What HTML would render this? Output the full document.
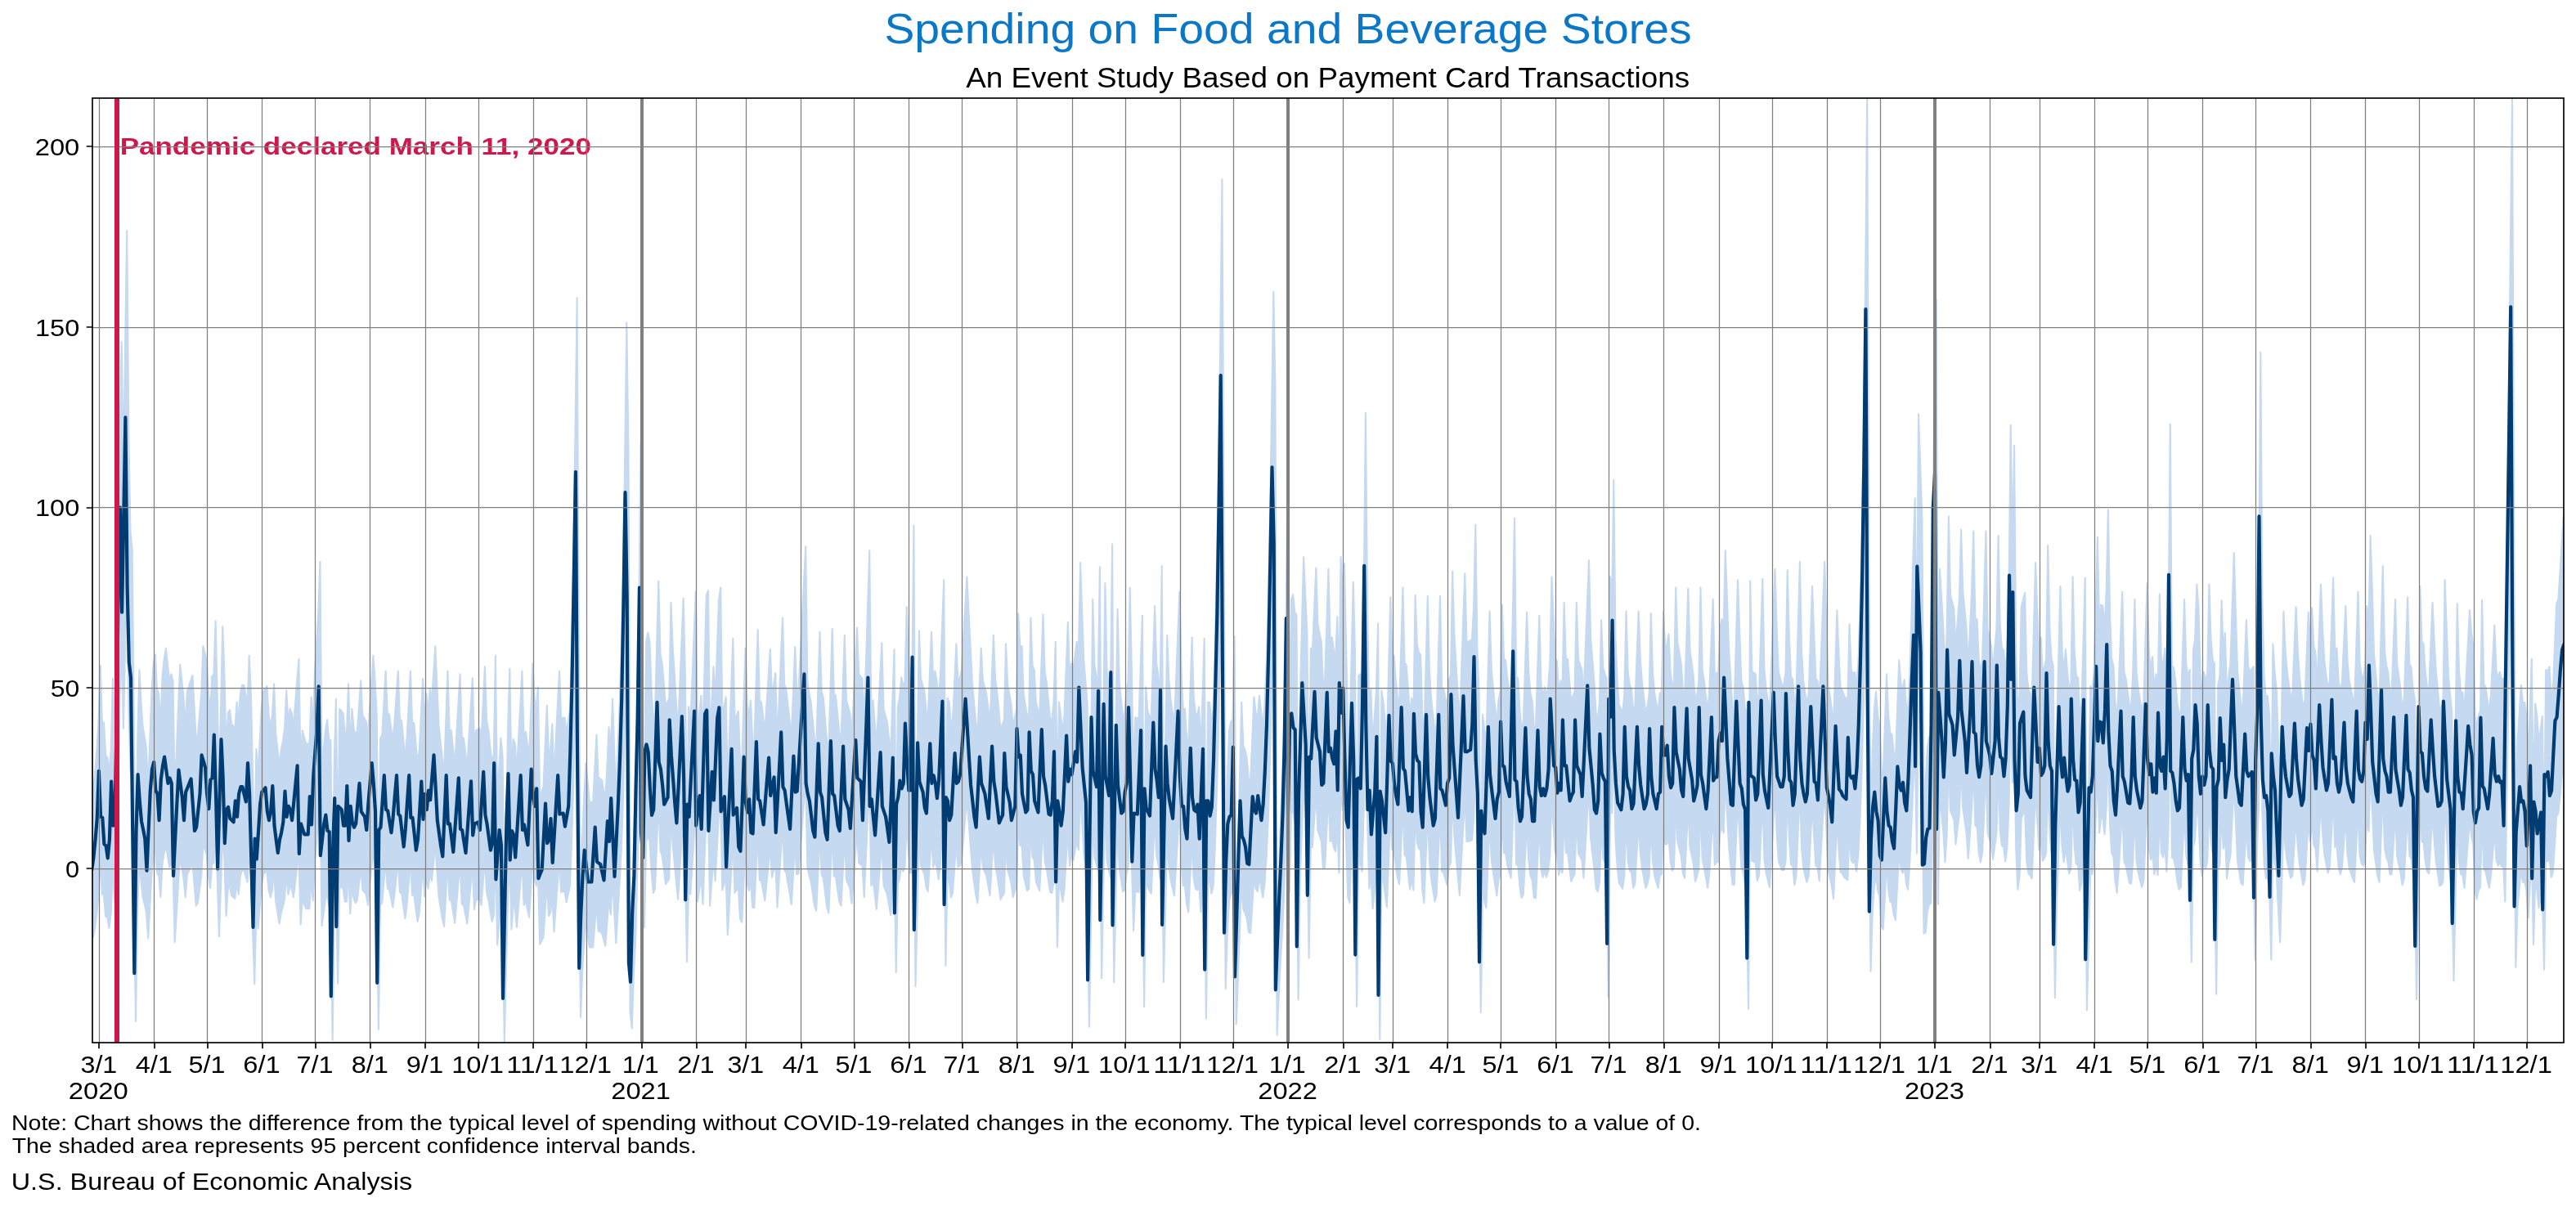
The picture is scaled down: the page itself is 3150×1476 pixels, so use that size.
<!DOCTYPE html>
<html><head><meta charset="utf-8"><title>Spending on Food and Beverage Stores</title>
<style>html,body{margin:0;padding:0;background:#fff}body{width:3150px;height:1476px;overflow:hidden;font-family:"Liberation Sans",sans-serif}svg{display:block}</style>
</head><body>
<svg style="will-change:transform" width="3150" height="1476" viewBox="0 0 3150 1476" font-family="'Liberation Sans', sans-serif">
<rect width="3150" height="1476" fill="#fff"/>
<defs><clipPath id="ax"><rect x="113.0" y="120.0" width="3022.0" height="1155.0"/></clipPath></defs>
<g clip-path="url(#ax)">
<polygon fill="#c5d9f0" stroke="#c5d9f0" stroke-width="2.08" stroke-linejoin="round" points="112.3,962.2 114.0,962.2 116.2,944.3 118.4,917.2 120.5,884.6 122.7,813.8 124.9,882.7 127.0,884.1 129.2,923.8 131.4,926.5 133.5,945.0 135.7,917.2 137.9,829.7 140.0,896.0 142.2,884.6 144.4,743.4 146.5,526.3 148.7,417.7 150.9,575.2 153.0,428.6 155.2,282.0 157.4,537.2 159.5,651.2 161.7,672.9 163.9,895.4 166.0,1118.0 168.2,906.3 170.4,819.1 172.5,859.1 174.7,889.5 176.9,902.0 179.0,916.1 181.2,963.8 183.4,903.4 185.5,843.0 187.7,811.2 189.9,800.6 192.0,843.0 194.2,848.3 196.4,888.0 198.5,827.1 200.7,805.9 202.9,792.6 205.0,812.5 207.2,832.4 209.4,824.4 211.5,832.4 213.7,971.5 215.9,917.8 218.0,864.2 220.2,812.5 222.4,833.1 224.5,853.6 226.7,888.0 228.9,845.6 231.1,839.0 233.2,832.4 235.4,825.8 237.6,864.2 239.7,903.9 241.9,898.6 244.1,873.5 246.2,848.3 248.4,790.0 250.6,799.3 252.7,808.5 254.9,848.3 257.1,870.8 259.2,827.1 261.4,824.4 263.6,759.5 265.7,848.3 267.9,960.9 270.1,863.5 272.2,766.1 274.4,821.8 276.6,922.5 278.7,872.1 280.9,868.2 283.1,885.4 285.2,888.0 287.4,890.7 289.6,858.9 291.7,882.7 293.9,848.3 296.1,837.7 298.2,837.7 300.4,848.9 302.6,860.2 304.7,801.9 306.9,848.3 309.1,948.7 311.2,1049.1 313.4,915.9 315.6,946.3 317.7,905.3 319.9,864.2 322.1,845.6 324.2,842.3 326.4,839.0 328.6,874.8 330.7,888.0 332.9,874.8 335.1,836.4 337.2,896.0 339.4,916.5 341.6,937.1 343.7,917.2 345.9,906.6 348.1,890.7 350.2,844.3 352.4,882.7 354.6,866.8 356.7,872.1 358.9,888.0 361.1,860.2 363.2,832.4 365.4,805.9 367.6,938.4 369.7,893.3 371.9,901.3 374.1,909.2 376.2,909.2 378.4,909.2 380.6,852.3 382.7,894.7 384.9,821.8 387.1,786.0 389.2,750.2 391.4,686.7 393.6,941.0 395.7,917.2 397.9,893.3 400.1,880.1 402.2,903.9 404.4,905.3 406.6,1152.8 408.7,933.4 410.9,854.9 413.1,1048.0 415.2,866.8 417.4,869.5 419.6,872.1 421.7,896.0 423.9,896.0 426.1,836.4 428.2,918.5 430.4,866.8 432.6,890.7 434.7,898.6 436.9,893.3 439.1,862.9 441.2,832.4 443.4,874.8 445.6,878.8 447.8,882.7 449.9,902.6 452.1,864.2 454.3,833.1 456.4,801.9 458.6,832.4 460.8,874.8 462.9,1132.7 465.1,902.6 467.3,898.6 469.4,859.5 471.6,820.5 473.8,872.1 475.9,873.5 478.1,890.0 480.3,906.6 482.4,882.7 484.6,851.6 486.8,820.5 488.9,878.8 491.1,881.4 493.3,904.6 495.4,927.8 497.6,901.3 499.8,860.9 501.9,820.5 504.1,884.1 506.3,884.1 508.4,908.6 510.6,933.1 512.8,917.2 514.9,873.5 517.1,829.7 519.3,886.7 521.4,848.3 523.6,872.1 525.8,843.0 527.9,857.6 530.1,823.8 532.3,790.0 534.4,839.0 536.6,888.0 538.8,907.9 540.9,927.8 543.1,942.4 545.3,881.4 547.4,820.5 549.6,893.3 551.8,893.3 553.9,914.5 556.1,935.7 558.3,898.6 560.4,861.5 562.6,824.4 564.8,901.3 566.9,902.6 569.1,919.8 571.3,937.1 573.4,901.1 575.6,865.2 577.8,829.2 579.9,910.6 582.1,893.3 584.3,892.0 586.4,890.7 588.6,902.6 590.8,858.9 592.9,815.2 595.1,880.1 597.3,893.3 599.4,913.2 601.6,933.1 603.8,922.5 605.9,801.9 608.1,976.8 610.3,939.7 612.4,902.6 614.6,925.1 616.8,1156.0 618.9,1022.0 621.1,888.0 623.3,817.8 625.4,947.7 627.6,903.9 629.8,909.2 631.9,943.7 634.1,902.6 636.3,861.5 638.4,820.5 640.6,902.6 642.8,894.7 644.9,909.9 647.1,925.1 649.3,868.2 651.4,811.2 653.6,853.6 655.8,866.8 657.9,840.3 660.1,975.5 662.3,968.8 664.5,962.2 666.6,912.5 668.8,862.9 671.0,922.5 673.1,917.2 675.3,885.4 677.5,951.6 679.6,907.9 681.8,864.2 684.0,820.5 686.1,878.8 688.3,878.1 690.5,877.4 692.6,897.3 694.8,882.1 697.0,866.8 699.1,781.4 701.3,678.3 703.5,526.3 705.6,364.0 707.8,786.9 710.0,1110.4 712.1,1025.7 714.3,971.4 716.5,933.1 718.6,956.9 720.8,980.8 723.0,980.8 725.1,980.8 727.3,939.7 729.5,898.6 731.6,950.3 733.8,952.3 736.0,954.3 738.1,966.2 740.3,978.1 742.5,933.7 744.6,889.4 746.8,919.8 749.0,854.9 751.1,913.9 753.3,972.8 755.5,917.2 757.6,862.9 759.8,797.7 762.0,705.4 764.1,564.3 766.3,394.9 768.5,553.4 770.6,1101.7 772.8,1131.0 775.0,1025.7 777.1,971.4 779.3,841.2 781.5,732.6 783.6,538.2 785.8,906.3 788.0,944.3 790.1,785.2 792.3,773.8 794.5,785.2 796.6,841.2 798.8,880.2 801.0,872.1 803.1,791.3 805.3,710.5 807.5,800.6 809.6,811.2 811.8,835.0 814.0,864.2 816.1,858.9 818.3,853.6 820.5,737.0 822.6,790.0 824.8,825.8 827.0,861.5 829.1,892.0 831.3,838.6 833.5,785.1 835.6,731.7 837.8,821.8 840.0,1007.8 842.1,864.2 844.3,882.7 846.5,829.7 848.6,776.7 850.8,723.8 853.0,896.0 855.1,873.5 857.3,850.9 859.5,901.3 861.6,814.5 863.8,727.7 866.0,722.4 868.1,903.9 870.3,859.5 872.5,815.2 874.6,857.6 876.8,796.0 879.0,734.3 881.2,718.5 883.3,874.8 885.5,863.5 887.7,852.3 889.8,958.3 892.0,899.1 894.2,839.9 896.3,780.7 898.5,880.1 900.7,874.8 902.8,869.5 905.0,927.8 907.2,934.4 909.3,863.5 911.5,792.6 913.7,861.5 915.8,876.1 918.0,856.2 920.2,906.6 922.3,907.9 924.5,839.0 926.7,770.1 928.8,856.2 931.0,858.9 933.2,876.8 935.3,894.7 937.5,861.1 939.7,827.5 941.8,794.0 944.0,850.9 946.2,837.0 948.3,823.1 950.5,906.6 952.7,856.2 954.8,805.9 957.0,755.5 959.2,837.7 961.3,843.0 963.5,862.4 965.7,881.9 967.8,901.3 970.0,846.3 972.2,791.3 974.3,845.6 976.5,844.3 978.7,800.3 980.8,756.2 983.0,712.2 985.2,668.1 987.3,832.4 989.5,848.3 991.7,858.9 993.8,881.4 996.0,903.9 998.2,913.2 1000.3,843.0 1002.5,772.8 1004.7,845.6 1006.8,853.6 1009.0,880.1 1011.2,906.6 1013.3,917.2 1015.5,843.0 1017.7,768.8 1019.8,848.3 1022.0,850.9 1024.2,873.5 1026.3,896.0 1028.5,903.9 1030.7,840.3 1032.8,776.7 1035.0,856.2 1037.2,864.2 1039.3,872.1 1041.5,900.0 1043.7,855.8 1045.8,811.6 1048.0,767.5 1050.2,824.4 1052.3,827.1 1054.5,829.7 1056.7,888.0 1058.8,816.5 1061.0,744.9 1063.2,673.4 1065.3,866.8 1067.5,856.2 1069.7,883.4 1071.8,910.6 1074.0,869.0 1076.2,827.5 1078.3,786.0 1080.5,866.8 1082.7,874.8 1084.8,882.7 1087.0,901.9 1089.2,921.2 1091.3,857.6 1093.5,794.0 1095.7,1027.4 1097.9,864.2 1100.0,853.6 1102.2,828.4 1104.4,840.3 1106.5,832.4 1108.7,742.3 1110.9,800.6 1113.0,843.0 1115.2,843.0 1117.4,642.5 1119.5,1052.9 1121.7,912.2 1123.9,771.4 1126.0,829.7 1128.2,837.7 1130.4,845.6 1132.5,869.5 1134.7,877.4 1136.9,825.1 1139.0,772.8 1141.2,832.4 1143.4,820.5 1145.5,832.4 1147.7,854.9 1149.9,827.1 1152.0,768.1 1154.2,709.2 1156.4,1014.9 1158.5,853.6 1160.7,858.9 1162.9,888.0 1165.0,880.1 1167.2,833.7 1169.4,787.3 1171.5,832.4 1173.7,829.7 1175.9,819.1 1178.0,781.2 1180.2,743.2 1182.4,705.2 1184.5,748.5 1186.7,791.8 1188.9,835.0 1191.0,858.9 1193.2,882.7 1195.4,898.6 1197.5,845.6 1199.7,792.6 1201.9,832.4 1204.0,840.3 1206.2,848.3 1208.4,866.8 1210.5,885.4 1212.7,831.1 1214.9,776.7 1217.0,829.7 1219.2,845.6 1221.4,868.8 1223.5,892.0 1225.7,886.0 1227.9,880.1 1230.0,787.3 1232.2,837.7 1234.4,849.6 1236.5,861.5 1238.7,888.0 1240.9,877.4 1243.0,866.8 1245.2,750.2 1247.4,792.6 1249.5,790.0 1251.7,848.3 1253.9,862.2 1256.0,876.1 1258.2,872.1 1260.4,755.5 1262.5,813.8 1264.7,819.1 1266.9,858.9 1269.0,867.5 1271.2,876.1 1273.4,813.8 1275.5,751.6 1277.7,821.8 1279.9,835.0 1282.0,856.9 1284.2,878.8 1286.4,880.1 1288.5,858.9 1290.7,784.7 1292.9,980.7 1295.0,858.9 1297.2,874.8 1299.4,896.0 1301.5,874.8 1303.7,817.8 1305.9,760.8 1308.0,829.7 1310.2,811.2 1312.4,819.1 1314.6,801.9 1316.7,784.7 1318.9,800.6 1321.1,688.0 1323.2,748.3 1325.4,808.5 1327.6,835.0 1329.7,861.5 1331.9,1128.3 1334.1,930.7 1336.2,733.0 1338.4,813.8 1340.6,825.8 1342.7,837.7 1344.9,693.3 1347.1,1038.2 1349.2,875.7 1351.4,713.2 1353.6,821.8 1355.7,836.4 1357.9,850.9 1360.1,665.5 1362.2,1045.8 1364.4,895.4 1366.6,744.9 1368.7,835.0 1370.9,856.2 1373.1,877.4 1375.2,874.8 1377.4,845.6 1379.6,832.4 1381.7,718.5 1383.9,821.8 1386.1,950.3 1388.2,877.4 1390.4,878.1 1392.6,878.8 1394.7,815.8 1396.9,752.9 1399.1,1090.9 1401.2,840.3 1403.4,869.5 1405.6,875.4 1407.7,881.4 1409.9,811.2 1412.1,741.0 1414.2,811.2 1416.4,827.1 1418.6,853.6 1420.7,692.0 1422.9,1045.3 1425.1,911.0 1427.2,776.7 1429.4,832.4 1431.6,856.2 1433.7,870.8 1435.9,885.4 1438.1,831.5 1440.2,777.6 1442.4,723.8 1444.6,821.8 1446.7,866.8 1448.9,866.8 1451.1,901.3 1453.2,915.9 1455.4,847.6 1457.6,779.4 1459.7,853.6 1461.9,872.1 1464.1,874.8 1466.2,864.2 1468.4,915.9 1470.6,848.3 1472.7,780.7 1474.9,1112.6 1477.1,858.9 1479.2,858.9 1481.4,881.4 1483.6,868.3 1485.7,797.7 1487.9,689.2 1490.1,580.6 1492.2,417.7 1494.4,219.0 1496.6,634.9 1498.7,1057.2 1500.9,949.7 1503.1,893.3 1505.2,882.7 1507.4,880.1 1509.6,778.1 1511.7,1123.4 1513.9,1035.3 1516.1,947.1 1518.2,858.9 1520.4,911.9 1522.6,917.2 1524.7,927.8 1526.9,953.0 1529.1,954.3 1531.3,903.3 1533.4,852.3 1535.6,872.1 1537.8,877.4 1539.9,850.9 1542.1,869.5 1544.3,888.0 1546.4,862.9 1548.6,814.0 1550.8,743.4 1552.9,634.9 1555.1,499.2 1557.3,356.9 1559.4,472.0 1561.6,1143.0 1563.8,1069.2 1565.9,1004.0 1568.1,949.7 1570.3,879.2 1572.4,770.6 1574.6,584.4 1576.8,879.2 1578.9,732.6 1581.1,727.2 1583.3,748.9 1585.4,751.6 1587.6,1077.8 1589.8,852.0 1591.9,766.7 1594.1,681.4 1596.3,729.0 1598.4,774.1 1600.6,1000.8 1602.8,792.6 1604.9,795.3 1607.1,744.9 1609.3,694.6 1611.4,763.5 1613.6,774.1 1615.8,784.7 1617.9,835.0 1620.1,832.4 1622.3,764.2 1624.4,695.9 1626.6,784.7 1628.8,779.4 1630.9,795.3 1633.1,803.2 1635.3,754.2 1637.4,843.0 1639.6,681.4 1641.8,726.4 1643.9,689.3 1646.1,788.7 1648.3,888.0 1650.4,898.6 1652.6,805.2 1654.8,711.8 1656.9,795.3 1659.1,1090.3 1661.3,825.8 1663.4,824.4 1665.6,840.3 1667.8,716.3 1669.9,505.1 1672.1,743.4 1674.3,872.1 1676.4,843.0 1678.6,909.2 1680.8,877.4 1682.9,845.6 1685.1,762.2 1687.3,1151.1 1689.4,844.3 1691.6,858.9 1693.8,882.7 1695.9,906.6 1698.1,818.5 1700.3,730.4 1702.4,799.3 1704.6,801.9 1706.8,832.4 1708.9,850.9 1711.1,864.2 1713.3,791.3 1715.4,718.5 1717.6,809.9 1719.8,813.8 1721.9,843.0 1724.1,873.5 1726.3,853.6 1728.4,874.8 1730.6,727.7 1732.8,787.3 1734.9,797.9 1737.1,800.6 1739.3,874.8 1741.4,898.6 1743.6,813.8 1745.8,729.0 1748.0,821.8 1750.1,853.6 1752.3,874.8 1754.5,896.0 1756.6,885.4 1758.8,807.2 1761.0,729.0 1763.1,840.3 1765.3,843.0 1767.5,854.2 1769.6,865.5 1771.8,832.4 1774.0,824.4 1776.1,698.6 1778.3,774.1 1780.5,811.2 1782.6,847.6 1784.8,884.1 1787.0,823.1 1789.1,762.2 1791.3,701.2 1793.5,784.7 1795.6,784.7 1797.8,783.4 1800.0,782.0 1802.1,742.3 1804.3,641.9 1806.5,797.7 1808.6,848.2 1810.8,1101.2 1813.0,873.7 1815.1,893.3 1817.3,907.9 1819.5,827.8 1821.6,747.6 1823.8,819.1 1826.0,843.0 1828.1,864.2 1830.3,885.4 1832.5,856.2 1834.6,845.6 1836.8,739.6 1839.0,805.9 1841.1,807.2 1843.3,829.7 1845.5,841.0 1847.6,852.3 1849.8,754.3 1852.0,633.8 1854.1,827.1 1856.3,829.7 1858.5,869.5 1860.6,889.4 1862.8,882.7 1865.0,815.8 1867.1,748.9 1869.3,821.8 1871.5,848.3 1873.6,856.2 1875.8,889.4 1878.0,889.4 1880.1,821.1 1882.3,752.9 1884.5,837.7 1886.6,850.9 1888.8,840.3 1891.0,850.9 1893.1,840.3 1895.3,811.2 1897.5,705.2 1899.6,755.5 1901.8,805.9 1904.0,808.5 1906.1,847.0 1908.3,832.4 1910.5,843.0 1912.6,737.0 1914.8,805.9 1917.0,805.9 1919.1,832.4 1921.3,858.9 1923.5,850.9 1925.6,845.6 1927.8,737.0 1930.0,805.9 1932.1,812.5 1934.3,819.1 1936.5,852.3 1938.6,796.6 1940.8,741.0 1943.0,685.3 1945.1,779.4 1947.3,807.2 1949.5,835.0 1951.6,872.1 1953.8,877.4 1956.0,858.9 1958.1,758.2 1960.3,816.5 1962.5,824.4 1964.7,829.7 1966.8,1073.5 1969.0,705.4 1971.2,732.6 1973.3,587.1 1975.5,782.0 1977.7,832.4 1979.8,861.5 1982.0,866.8 1984.2,872.1 1986.3,848.3 1988.5,747.6 1990.7,821.8 1992.8,837.7 1995.0,843.0 1997.2,870.8 1999.3,862.9 2001.5,805.2 2003.7,747.6 2005.8,805.9 2008.0,835.0 2010.2,852.9 2012.3,870.8 2014.5,864.2 2016.7,848.3 2018.8,750.2 2021.0,821.8 2023.2,848.3 2025.3,859.5 2027.5,870.8 2029.7,848.3 2031.8,845.6 2034.0,747.6 2036.2,790.0 2038.3,790.0 2040.5,775.4 2042.7,821.8 2044.8,839.0 2047.0,832.4 2049.2,718.5 2051.3,784.7 2053.5,797.9 2055.7,811.2 2057.8,843.0 2060.0,852.3 2062.2,786.0 2064.3,719.8 2066.5,795.3 2068.7,811.2 2070.8,827.1 2073.0,858.9 2075.2,848.3 2077.3,835.0 2079.5,718.5 2081.7,819.1 2083.8,832.4 2086.0,851.6 2088.2,870.8 2090.3,843.0 2092.5,788.0 2094.7,733.0 2096.8,828.4 2099.0,823.1 2101.2,823.1 2103.3,768.8 2105.5,756.9 2107.7,768.8 2109.8,673.4 2112.0,734.3 2114.2,795.3 2116.3,829.7 2118.5,864.2 2120.7,865.5 2122.8,787.3 2125.0,709.2 2127.2,770.8 2129.3,832.4 2131.5,840.3 2133.7,864.2 2135.8,872.1 2138.0,1095.2 2140.2,710.5 2142.3,820.5 2144.5,822.5 2146.7,824.4 2148.8,857.6 2151.0,848.3 2153.2,778.1 2155.3,707.9 2157.5,819.1 2159.7,843.0 2161.8,856.2 2164.0,869.5 2166.2,811.6 2168.3,753.8 2170.5,695.9 2172.7,768.8 2174.8,821.8 2177.0,829.7 2179.2,837.7 2181.4,837.7 2183.5,821.8 2185.7,697.3 2187.9,779.4 2190.0,827.1 2192.2,831.1 2194.4,865.5 2196.5,848.3 2198.7,767.5 2200.9,686.7 2203.0,795.3 2205.2,832.4 2207.4,848.3 2209.5,860.2 2211.7,848.3 2213.9,782.7 2216.0,717.1 2218.2,773.4 2220.4,829.7 2222.5,832.4 2224.7,857.6 2226.9,800.6 2229.0,743.6 2231.2,686.7 2233.4,762.8 2235.5,839.0 2237.7,850.9 2239.9,866.8 2242.0,890.7 2244.2,818.5 2246.4,746.3 2248.5,800.6 2250.7,841.7 2252.9,844.3 2255.0,850.9 2257.2,853.6 2259.4,856.2 2261.5,763.5 2263.7,819.1 2265.9,824.4 2268.0,821.8 2270.2,840.3 2272.4,808.6 2274.5,743.4 2276.7,651.2 2278.9,526.3 2281.0,352.6 2283.2,119.2 2285.4,689.2 2287.5,1025.2 2289.7,917.2 2291.9,868.3 2294.0,845.6 2296.2,874.8 2298.4,888.0 2300.5,941.0 2302.7,947.7 2304.9,886.0 2307.0,824.4 2309.2,874.8 2311.4,896.0 2313.5,898.6 2315.7,919.8 2317.9,930.4 2320.0,868.8 2322.2,807.2 2324.4,835.0 2326.5,843.0 2328.7,831.1 2330.9,861.5 2333.0,873.5 2335.2,824.9 2337.4,754.3 2339.5,678.3 2341.7,609.4 2343.9,807.0 2346.0,506.2 2348.2,569.7 2350.4,634.9 2352.5,955.2 2354.7,953.5 2356.9,914.5 2359.0,901.3 2361.2,900.0 2363.4,743.4 2365.5,417.7 2367.7,366.2 2369.9,901.4 2372.0,695.9 2374.2,732.4 2376.4,768.8 2378.5,823.1 2380.7,770.6 2382.9,631.6 2385.0,727.7 2387.2,736.3 2389.4,744.9 2391.5,790.0 2393.7,761.3 2395.9,732.6 2398.1,647.9 2400.2,721.7 2402.4,745.3 2404.6,768.8 2406.7,816.5 2408.9,770.6 2411.1,721.7 2413.2,649.5 2415.4,755.5 2417.6,758.2 2419.7,805.9 2421.9,823.1 2424.1,805.9 2426.2,732.6 2428.4,649.5 2430.6,768.8 2432.7,779.4 2434.9,790.0 2437.1,817.8 2439.2,793.3 2441.4,768.8 2443.6,655.0 2445.7,763.5 2447.9,792.6 2450.1,795.3 2452.2,821.8 2454.4,795.3 2456.6,716.3 2458.7,519.8 2460.9,676.1 2463.1,544.8 2465.2,797.7 2467.4,873.5 2469.6,848.3 2471.7,742.3 2473.9,733.7 2476.1,725.1 2478.2,821.8 2480.4,843.0 2482.6,848.3 2484.7,853.6 2486.9,770.8 2489.1,688.0 2491.2,744.3 2493.4,800.6 2495.6,779.4 2497.7,820.5 2499.9,816.5 2502.1,805.9 2504.2,666.8 2506.4,768.8 2508.6,805.9 2510.7,813.8 2512.9,1074.6 2515.1,895.4 2517.2,806.3 2519.4,717.1 2521.6,795.3 2523.7,823.1 2525.9,794.0 2528.1,821.8 2530.2,844.3 2532.4,835.0 2534.6,705.2 2536.7,795.3 2538.9,827.1 2541.1,828.4 2543.2,876.1 2545.4,861.5 2547.6,784.0 2549.7,706.5 2551.9,1097.4 2554.1,968.2 2556.2,839.0 2558.4,845.6 2560.6,821.8 2562.7,743.4 2564.9,656.6 2567.1,768.8 2569.2,739.6 2571.4,741.0 2573.6,771.4 2575.7,721.7 2577.9,623.5 2580.1,754.3 2582.2,805.9 2584.4,813.8 2586.6,858.9 2588.7,880.1 2590.9,835.0 2593.1,779.4 2595.2,723.8 2597.4,821.8 2599.6,829.7 2601.7,845.6 2603.9,861.5 2606.1,862.9 2608.2,821.8 2610.4,733.0 2612.6,821.8 2614.8,843.0 2616.9,856.2 2619.1,869.5 2621.3,858.9 2623.4,786.0 2625.6,713.2 2627.8,795.3 2629.9,819.1 2632.1,803.2 2634.3,845.6 2636.4,824.4 2638.6,847.0 2640.8,726.4 2642.9,805.9 2645.1,813.8 2647.3,792.6 2649.4,840.3 2651.6,765.2 2653.8,518.7 2655.9,813.8 2658.1,816.5 2660.3,832.4 2662.4,858.9 2664.6,873.5 2666.8,869.5 2668.9,801.3 2671.1,733.0 2673.3,811.2 2675.4,828.4 2677.6,819.1 2679.8,1008.4 2681.9,795.3 2684.1,782.0 2686.3,714.5 2688.4,742.3 2690.6,821.8 2692.8,848.3 2694.9,821.8 2697.1,835.0 2699.3,821.8 2701.4,714.5 2703.6,782.0 2705.8,807.2 2707.9,811.2 2710.1,1067.5 2712.3,837.7 2714.4,827.1 2716.6,734.3 2718.8,797.9 2720.9,774.1 2723.1,853.6 2725.3,827.1 2727.4,811.2 2729.6,743.6 2731.8,676.1 2733.9,748.9 2736.1,821.8 2738.3,841.7 2740.4,861.5 2742.6,865.5 2744.8,811.9 2746.9,758.2 2749.1,813.8 2751.3,821.8 2753.4,818.5 2755.6,815.2 2757.8,1004.6 2759.9,797.7 2762.1,716.3 2764.3,430.8 2766.4,732.6 2768.6,827.1 2770.8,853.6 2772.9,850.9 2775.1,873.7 2777.3,1003.5 2779.4,787.4 2781.6,821.8 2783.8,843.0 2785.9,907.2 2788.1,971.5 2790.3,859.5 2792.4,747.6 2794.6,795.3 2796.8,821.8 2798.9,837.0 2801.1,852.3 2803.3,848.3 2805.4,795.3 2807.6,742.3 2809.8,795.3 2811.9,827.1 2814.1,846.3 2816.3,865.5 2818.4,856.2 2820.6,802.6 2822.8,748.9 2824.9,783.4 2827.1,743.6 2829.3,790.0 2831.5,797.9 2833.6,840.3 2835.8,777.4 2838.0,714.5 2840.1,768.8 2842.3,808.5 2844.5,825.8 2846.6,843.0 2848.8,832.4 2851.0,769.5 2853.1,706.5 2855.3,795.3 2857.5,792.6 2859.6,832.4 2861.8,845.6 2864.0,832.4 2866.1,786.7 2868.3,741.0 2870.5,808.5 2872.6,832.4 2874.8,843.0 2877.0,853.6 2879.1,860.2 2881.3,792.0 2883.5,723.8 2885.6,811.2 2887.8,825.8 2890.0,829.7 2892.1,813.8 2894.3,741.0 2896.5,766.1 2898.6,655.0 2900.8,721.1 2903.0,800.6 2905.1,824.4 2907.3,848.3 2909.5,860.2 2911.6,776.1 2913.8,692.0 2916.0,795.3 2918.1,813.8 2920.3,821.8 2922.5,845.6 2924.6,845.6 2926.8,789.3 2929.0,733.0 2931.1,811.2 2933.3,827.1 2935.5,843.0 2937.6,865.5 2939.8,853.6 2942.0,792.0 2944.1,730.4 2946.3,811.2 2948.5,816.5 2950.6,843.0 2952.8,853.6 2955.0,1077.3 2957.1,897.2 2959.3,717.1 2961.5,784.7 2963.6,787.3 2965.8,821.8 2968.0,840.3 2970.1,844.3 2972.3,790.7 2974.5,737.0 2976.6,782.0 2978.8,821.8 2981.0,844.3 2983.1,866.8 2985.3,865.5 2987.5,858.9 2989.6,709.2 2991.8,768.8 2994.0,827.1 2996.1,849.6 2998.3,872.1 3000.5,1043.1 3002.6,890.7 3004.8,738.3 3007.0,821.8 3009.1,845.6 3011.3,847.0 3013.5,870.8 3015.6,829.3 3017.8,787.8 3020.0,746.3 3022.1,774.1 3024.3,790.0 3026.5,874.8 3028.6,892.0 3030.8,874.8 3033.0,869.5 3035.1,733.8 3037.3,836.4 3039.5,840.3 3041.6,855.6 3043.8,870.8 3046.0,848.3 3048.2,806.6 3050.3,764.8 3052.5,819.1 3054.7,829.7 3056.8,821.8 3059.0,831.1 3061.2,829.7 3063.3,896.0 3065.5,689.2 3067.7,499.2 3069.8,309.2 3072.0,115.9 3074.2,662.0 3076.3,1017.6 3078.5,906.3 3080.7,872.0 3082.8,837.7 3085.0,860.2 3087.2,858.9 3089.3,874.8 3091.5,926.5 3093.7,866.2 3095.8,805.9 3098.0,975.5 3100.2,860.2 3102.3,874.8 3104.5,907.9 3106.7,892.0 3108.8,876.1 3111.0,1022.5 3113.2,819.1 3115.3,821.8 3117.5,815.2 3119.7,850.9 3121.8,843.0 3124.0,790.7 3126.2,738.3 3128.3,733.0 3130.5,700.0 3132.7,662.0 3134.8,631.6 3137.0,624.0 3137.0,922.9 3134.8,927.9 3132.7,948.0 3130.5,973.1 3128.3,994.8 3126.2,998.3 3124.0,1032.9 3121.8,1067.4 3119.7,1072.7 3117.5,1049.1 3115.3,1053.4 3113.2,1051.7 3111.0,1185.9 3108.8,1089.3 3106.7,1099.8 3104.5,1110.3 3102.3,1088.4 3100.2,1078.8 3098.0,1154.9 3095.8,1042.9 3093.7,1082.7 3091.5,1122.5 3089.3,1088.4 3087.2,1077.9 3085.0,1078.8 3082.8,1063.9 3080.7,1086.6 3078.5,1109.2 3076.3,1182.7 3074.2,948.0 3072.0,587.4 3069.8,715.0 3067.7,840.5 3065.5,965.9 3063.3,1102.4 3061.2,1058.7 3059.0,1059.6 3056.8,1053.4 3054.7,1058.7 3052.5,1051.7 3050.3,1015.8 3048.2,1043.4 3046.0,1070.9 3043.8,1085.8 3041.6,1075.7 3039.5,1065.7 3037.3,1063.1 3035.1,995.4 3033.0,1084.9 3030.8,1088.4 3028.6,1099.8 3026.5,1088.4 3024.3,1032.5 3022.1,1022.0 3020.0,1003.6 3017.8,1031.0 3015.6,1058.4 3013.5,1085.8 3011.3,1070.1 3009.1,1069.2 3007.0,1053.4 3004.8,998.3 3002.6,1098.9 3000.5,1199.5 2998.3,1086.7 2996.1,1071.8 2994.0,1056.9 2991.8,1018.5 2989.6,979.1 2987.5,1077.9 2985.3,1082.3 2983.1,1083.2 2981.0,1068.3 2978.8,1053.4 2976.6,1027.2 2974.5,997.5 2972.3,1032.9 2970.1,1068.3 2968.0,1065.7 2965.8,1053.4 2963.6,1030.7 2961.5,1029.0 2959.3,984.3 2957.1,1103.2 2955.0,1222.1 2952.8,1074.4 2950.6,1067.4 2948.5,1049.9 2946.3,1046.4 2944.1,993.1 2942.0,1033.8 2939.8,1074.4 2937.6,1082.3 2935.5,1067.4 2933.3,1056.9 2931.1,1046.4 2929.0,994.8 2926.8,1032.0 2924.6,1069.2 2922.5,1069.2 2920.3,1053.4 2918.1,1048.2 2916.0,1036.0 2913.8,967.7 2911.6,1023.3 2909.5,1078.8 2907.3,1070.9 2905.1,1055.2 2903.0,1039.4 2900.8,987.0 2898.6,943.3 2896.5,1016.7 2894.3,1000.1 2892.1,1048.2 2890.0,1058.7 2887.8,1056.1 2885.6,1046.4 2883.5,988.7 2881.3,1033.8 2879.1,1078.8 2877.0,1074.4 2874.8,1067.4 2872.6,1060.4 2870.5,1044.7 2868.3,1000.1 2866.1,1030.3 2864.0,1060.4 2861.8,1069.2 2859.6,1060.4 2857.5,1034.2 2855.3,1036.0 2853.1,977.4 2851.0,1018.9 2848.8,1060.4 2846.6,1067.4 2844.5,1056.1 2842.3,1044.7 2840.1,1018.5 2838.0,982.6 2835.8,1024.1 2833.6,1065.7 2831.5,1037.7 2829.3,1032.5 2827.1,1001.8 2824.9,1028.1 2822.8,1005.3 2820.6,1040.8 2818.4,1076.2 2816.3,1082.3 2814.1,1069.6 2811.9,1056.9 2809.8,1036.0 2807.6,1001.0 2805.4,1036.0 2803.3,1070.9 2801.1,1073.6 2798.9,1063.5 2796.8,1053.4 2794.6,1036.0 2792.4,1004.5 2790.3,1078.4 2788.1,1152.3 2785.9,1109.9 2783.8,1067.4 2781.6,1053.4 2779.4,1030.8 2777.3,1173.4 2775.1,1087.7 2772.9,1072.7 2770.8,1074.4 2768.6,1056.9 2766.4,994.6 2764.3,795.3 2762.1,983.8 2759.9,1037.6 2757.8,1174.1 2755.6,1049.1 2753.4,1051.3 2751.3,1053.4 2749.1,1048.2 2746.9,1011.5 2744.8,1046.9 2742.6,1082.3 2740.4,1079.7 2738.3,1066.6 2736.1,1053.4 2733.9,1005.3 2731.8,957.2 2729.6,1001.8 2727.4,1046.4 2725.3,1056.9 2723.1,1074.4 2720.9,1022.0 2718.8,1037.7 2716.6,995.7 2714.4,1056.9 2712.3,1063.9 2710.1,1215.7 2707.9,1046.4 2705.8,1043.8 2703.6,1027.2 2701.4,982.6 2699.3,1053.4 2697.1,1062.2 2694.9,1053.4 2692.8,1070.9 2690.6,1053.4 2688.4,1001.0 2686.3,982.6 2684.1,1027.2 2681.9,1036.0 2679.8,1176.6 2677.6,1051.7 2675.4,1057.8 2673.3,1046.4 2671.1,994.8 2668.9,1039.9 2666.8,1084.9 2664.6,1087.6 2662.4,1077.9 2660.3,1060.4 2658.1,1049.9 2655.9,1048.2 2653.8,853.4 2651.6,1016.1 2649.4,1065.7 2647.3,1034.2 2645.1,1048.2 2642.9,1042.9 2640.8,990.5 2638.6,1070.1 2636.4,1055.2 2634.3,1069.2 2632.1,1041.2 2629.9,1051.7 2627.8,1036.0 2625.6,981.7 2623.4,1029.8 2621.3,1077.9 2619.1,1084.9 2616.9,1076.2 2614.8,1067.4 2612.6,1053.4 2610.4,994.8 2608.2,1053.4 2606.1,1080.6 2603.9,1079.7 2601.7,1069.2 2599.6,1058.7 2597.4,1053.4 2595.2,988.7 2593.1,1025.5 2590.9,1062.2 2588.7,1091.9 2586.6,1077.9 2584.4,1048.2 2582.2,1042.9 2580.1,1008.9 2577.9,922.5 2575.7,987.4 2573.6,1020.2 2571.4,1000.1 2569.2,999.2 2567.1,1018.5 2564.9,944.4 2562.7,1001.7 2560.6,1053.4 2558.4,1069.2 2556.2,1064.8 2554.1,1150.1 2551.9,1235.4 2549.7,977.4 2547.6,1028.5 2545.4,1079.7 2543.2,1089.3 2541.1,1057.8 2538.9,1056.9 2536.7,1036.0 2534.6,976.5 2532.4,1062.2 2530.2,1068.3 2528.1,1053.4 2525.9,1035.1 2523.7,1054.3 2521.6,1036.0 2519.4,984.3 2517.2,1043.2 2515.1,1102.1 2512.9,1220.3 2510.7,1048.2 2508.6,1042.9 2506.4,1018.5 2504.2,951.1 2502.1,1042.9 2499.9,1049.9 2497.7,1052.6 2495.6,1025.5 2493.4,1039.4 2491.2,1002.3 2489.1,965.1 2486.9,1019.8 2484.7,1074.4 2482.6,1070.9 2480.4,1067.4 2478.2,1053.4 2476.1,989.6 2473.9,995.3 2471.7,1001.0 2469.6,1070.9 2467.4,1087.6 2465.2,1037.6 2463.1,870.6 2460.9,957.3 2458.7,854.1 2456.6,983.8 2454.4,1036.0 2452.2,1053.4 2450.1,1036.0 2447.9,1034.2 2445.7,1015.0 2443.6,943.3 2441.4,1018.5 2439.2,1034.6 2437.1,1050.8 2434.9,1032.5 2432.7,1025.5 2430.6,1018.5 2428.4,939.7 2426.2,994.6 2424.1,1042.9 2421.9,1054.3 2419.7,1042.9 2417.6,1011.5 2415.4,1009.7 2413.2,939.7 2411.1,987.4 2408.9,1019.6 2406.7,1049.9 2404.6,1018.5 2402.4,1002.9 2400.2,987.4 2398.1,938.6 2395.9,994.6 2393.7,1013.5 2391.5,1032.5 2389.4,1002.7 2387.2,997.0 2385.0,991.3 2382.9,927.9 2380.7,1019.6 2378.5,1054.3 2376.4,1018.5 2374.2,994.4 2372.0,970.4 2369.9,1106.0 2367.7,752.7 2365.5,786.7 2363.4,1001.7 2361.2,1105.0 2359.0,1105.9 2356.9,1114.7 2354.7,1140.4 2352.5,1141.5 2350.4,930.0 2348.2,887.0 2346.0,845.1 2343.9,1043.7 2341.7,913.2 2339.5,958.7 2337.4,1008.9 2335.2,1055.5 2333.0,1087.6 2330.9,1079.7 2328.7,1059.6 2326.5,1067.4 2324.4,1062.2 2322.2,1043.8 2320.0,1084.5 2317.9,1125.2 2315.7,1118.2 2313.5,1104.2 2311.4,1102.4 2309.2,1088.4 2307.0,1055.2 2304.9,1095.9 2302.7,1136.5 2300.5,1132.2 2298.4,1097.2 2296.2,1088.4 2294.0,1069.2 2291.9,1084.1 2289.7,1116.4 2287.5,1187.7 2285.4,965.9 2283.2,589.6 2281.0,743.7 2278.9,858.4 2276.7,940.8 2274.5,1001.7 2272.4,1044.7 2270.2,1065.7 2268.0,1053.4 2265.9,1055.2 2263.7,1051.7 2261.5,1015.0 2259.4,1076.2 2257.2,1074.4 2255.0,1072.7 2252.9,1068.3 2250.7,1066.6 2248.5,1039.4 2246.4,1003.6 2244.2,1051.3 2242.0,1098.9 2239.9,1083.2 2237.7,1072.7 2235.5,1064.8 2233.4,1014.5 2231.2,964.2 2229.0,1001.8 2226.9,1039.4 2224.7,1077.1 2222.5,1060.4 2220.4,1058.7 2218.2,1021.5 2216.0,984.3 2213.9,1027.6 2211.7,1070.9 2209.5,1078.8 2207.4,1070.9 2205.2,1060.4 2203.0,1036.0 2200.9,964.2 2198.7,1017.6 2196.5,1070.9 2194.4,1082.3 2192.2,1059.6 2190.0,1056.9 2187.9,1025.5 2185.7,971.2 2183.5,1053.4 2181.4,1063.9 2179.2,1063.9 2177.0,1058.7 2174.8,1053.4 2172.7,1018.5 2170.5,970.4 2168.3,1008.5 2166.2,1046.7 2164.0,1084.9 2161.8,1076.2 2159.7,1067.4 2157.5,1051.7 2155.3,978.2 2153.2,1024.6 2151.0,1070.9 2148.8,1077.1 2146.7,1055.2 2144.5,1053.9 2142.3,1052.6 2140.2,980.0 2138.0,1234.0 2135.8,1086.7 2133.7,1081.4 2131.5,1065.7 2129.3,1060.4 2127.2,1019.8 2125.0,979.1 2122.8,1030.7 2120.7,1082.3 2118.5,1081.4 2116.3,1058.7 2114.2,1036.0 2112.0,995.7 2109.8,955.5 2107.7,1018.5 2105.5,1010.6 2103.3,1018.5 2101.2,1054.3 2099.0,1054.3 2096.8,1057.8 2094.7,994.8 2092.5,1031.1 2090.3,1067.4 2088.2,1085.8 2086.0,1073.1 2083.8,1060.4 2081.7,1051.7 2079.5,985.2 2077.3,1062.2 2075.2,1070.9 2073.0,1077.9 2070.8,1056.9 2068.7,1046.4 2066.5,1036.0 2064.3,986.1 2062.2,1029.8 2060.0,1073.6 2057.8,1067.4 2055.7,1046.4 2053.5,1037.7 2051.3,1029.0 2049.2,985.2 2047.0,1060.4 2044.8,1064.8 2042.7,1053.4 2040.5,1022.8 2038.3,1032.5 2036.2,1032.5 2034.0,1004.5 2031.8,1069.2 2029.7,1070.9 2027.5,1085.8 2025.3,1078.4 2023.2,1070.9 2021.0,1053.4 2018.8,1006.2 2016.7,1070.9 2014.5,1081.4 2012.3,1085.8 2010.2,1074.0 2008.0,1062.2 2005.8,1042.9 2003.7,1004.5 2001.5,1042.5 1999.3,1080.6 1997.2,1085.8 1995.0,1067.4 1992.8,1063.9 1990.7,1053.4 1988.5,1004.5 1986.3,1070.9 1984.2,1086.7 1982.0,1083.2 1979.8,1079.7 1977.7,1060.4 1975.5,1027.2 1973.3,898.5 1971.2,994.6 1969.0,976.6 1966.8,1219.6 1964.7,1058.7 1962.5,1055.2 1960.3,1049.9 1958.1,1011.5 1956.0,1077.9 1953.8,1090.2 1951.6,1086.7 1949.5,1062.2 1947.3,1043.8 1945.1,1025.5 1943.0,963.4 1940.8,1000.1 1938.6,1036.8 1936.5,1073.6 1934.3,1051.7 1932.1,1047.3 1930.0,1042.9 1927.8,997.5 1925.6,1069.2 1923.5,1072.7 1921.3,1077.9 1919.1,1060.4 1917.0,1042.9 1914.8,1042.9 1912.6,997.5 1910.5,1067.4 1908.3,1060.4 1906.1,1070.1 1904.0,1044.7 1901.8,1042.9 1899.6,1009.7 1897.5,976.5 1895.3,1046.4 1893.1,1065.7 1891.0,1072.7 1888.8,1065.7 1886.6,1072.7 1884.5,1063.9 1882.3,1008.0 1880.1,1053.0 1878.0,1098.0 1875.8,1098.0 1873.6,1076.2 1871.5,1070.9 1869.3,1053.4 1867.1,1005.3 1865.0,1049.5 1862.8,1093.7 1860.6,1098.0 1858.5,1084.9 1856.3,1058.7 1854.1,1056.9 1852.0,929.3 1849.8,1008.9 1847.6,1073.6 1845.5,1066.1 1843.3,1058.7 1841.1,1043.8 1839.0,1042.9 1836.8,999.2 1834.6,1069.2 1832.5,1076.2 1830.3,1095.4 1828.1,1081.4 1826.0,1067.4 1823.8,1051.7 1821.6,1004.5 1819.5,1057.4 1817.3,1110.3 1815.1,1100.7 1813.0,1087.7 1810.8,1237.9 1808.6,1070.9 1806.5,1037.6 1804.3,934.7 1802.1,1001.0 1800.0,1027.2 1797.8,1028.1 1795.6,1029.0 1793.5,1029.0 1791.3,973.9 1789.1,1014.1 1787.0,1054.3 1784.8,1094.6 1782.6,1070.5 1780.5,1046.4 1778.3,1022.0 1776.1,972.1 1774.0,1055.2 1771.8,1060.4 1769.6,1082.3 1767.5,1074.9 1765.3,1067.4 1763.1,1065.7 1761.0,992.2 1758.8,1043.8 1756.6,1095.4 1754.5,1102.4 1752.3,1088.4 1750.1,1074.4 1748.0,1053.4 1745.8,992.2 1743.6,1048.2 1741.4,1104.2 1739.3,1088.4 1737.1,1039.4 1734.9,1037.7 1732.8,1030.7 1730.6,991.3 1728.4,1088.4 1726.3,1074.4 1724.1,1087.6 1721.9,1067.4 1719.8,1048.2 1717.6,1045.6 1715.4,985.2 1713.3,1033.3 1711.1,1081.4 1708.9,1072.7 1706.8,1060.4 1704.6,1040.3 1702.4,1038.6 1700.3,993.1 1698.1,1051.3 1695.9,1109.4 1693.8,1093.7 1691.6,1077.9 1689.4,1068.3 1687.3,1270.9 1685.1,1014.1 1682.9,1069.2 1680.8,1090.2 1678.6,1111.2 1676.4,1067.4 1674.3,1086.7 1672.1,1001.7 1669.9,844.4 1667.8,983.8 1665.6,1065.7 1663.4,1055.2 1661.3,1056.1 1659.1,1230.7 1656.9,1036.0 1654.8,980.8 1652.6,1042.5 1650.4,1104.2 1648.3,1097.2 1646.1,1031.6 1643.9,966.0 1641.8,990.5 1639.6,960.7 1637.4,1067.4 1635.3,1008.8 1633.1,1041.2 1630.9,1036.0 1628.8,1025.5 1626.6,1029.0 1624.4,970.4 1622.3,1015.4 1620.1,1060.4 1617.9,1062.2 1615.8,1029.0 1613.6,1022.0 1611.4,1015.0 1609.3,969.5 1607.1,1002.7 1604.9,1036.0 1602.8,1034.2 1600.6,1171.6 1598.4,1022.0 1596.3,992.2 1594.1,960.7 1591.9,1017.1 1589.8,1073.4 1587.6,1222.5 1585.4,1007.1 1583.3,1005.3 1581.1,991.0 1578.9,994.6 1576.8,1091.3 1574.6,896.7 1572.4,1019.6 1570.3,1091.3 1568.1,1137.9 1565.9,1173.7 1563.8,1216.7 1561.6,1265.5 1559.4,822.5 1557.3,746.6 1555.1,840.5 1552.9,930.0 1550.8,1001.7 1548.6,1048.3 1546.4,1080.6 1544.3,1097.2 1542.1,1084.9 1539.9,1072.7 1537.8,1090.2 1535.6,1086.7 1533.4,1073.6 1531.3,1107.2 1529.1,1140.9 1526.9,1140.0 1524.7,1123.4 1522.6,1116.4 1520.4,1112.9 1518.2,1077.9 1516.1,1136.2 1513.9,1194.4 1511.7,1252.6 1509.6,1024.6 1507.4,1091.9 1505.2,1093.7 1503.1,1100.7 1500.9,1137.9 1498.7,1208.9 1496.6,930.0 1494.4,655.5 1492.2,786.7 1490.1,894.2 1487.9,965.9 1485.7,1037.6 1483.6,1084.1 1481.4,1092.8 1479.2,1077.9 1477.1,1077.9 1474.9,1245.4 1472.7,1026.3 1470.6,1070.9 1468.4,1115.5 1466.2,1081.4 1464.1,1088.4 1461.9,1086.7 1459.7,1074.4 1457.6,1025.5 1455.4,1070.5 1453.2,1115.5 1451.1,1105.9 1448.9,1083.2 1446.7,1083.2 1444.6,1053.4 1442.4,988.7 1440.2,1024.3 1438.1,1059.9 1435.9,1095.4 1433.7,1085.8 1431.6,1076.2 1429.4,1060.4 1427.2,1023.7 1425.1,1112.3 1422.9,1201.0 1420.7,967.7 1418.6,1074.4 1416.4,1056.9 1414.2,1046.4 1412.1,1000.1 1409.9,1046.4 1407.7,1092.8 1405.6,1088.9 1403.4,1084.9 1401.2,1065.7 1399.1,1231.1 1396.9,1008.0 1394.7,1049.5 1392.6,1091.1 1390.4,1090.6 1388.2,1090.2 1386.1,1138.3 1383.9,1053.4 1381.7,985.2 1379.6,1060.4 1377.4,1069.2 1375.2,1088.4 1373.1,1090.2 1370.9,1076.2 1368.7,1062.2 1366.6,1002.7 1364.4,1102.0 1362.2,1201.3 1360.1,950.2 1357.9,1072.7 1355.7,1063.1 1353.6,1053.4 1351.4,981.7 1349.2,1089.0 1347.1,1196.3 1344.9,968.6 1342.7,1063.9 1340.6,1056.1 1338.4,1048.2 1336.2,994.8 1334.1,1125.3 1331.9,1255.8 1329.7,1079.7 1327.6,1062.2 1325.4,1044.7 1323.2,1004.9 1321.1,965.1 1318.9,1039.4 1316.7,1029.0 1314.6,1040.3 1312.4,1051.7 1310.2,1046.4 1308.0,1058.7 1305.9,1013.2 1303.7,1050.8 1301.5,1088.4 1299.4,1102.4 1297.2,1088.4 1295.0,1077.9 1292.9,1158.3 1290.7,1029.0 1288.5,1077.9 1286.4,1091.9 1284.2,1091.1 1282.0,1076.6 1279.9,1062.2 1277.7,1053.4 1275.5,1007.1 1273.4,1048.2 1271.2,1089.3 1269.0,1083.6 1266.9,1077.9 1264.7,1051.7 1262.5,1048.2 1260.4,1009.7 1258.2,1086.7 1256.0,1089.3 1253.9,1080.1 1251.7,1070.9 1249.5,1032.5 1247.4,1034.2 1245.2,1006.2 1243.0,1083.2 1240.9,1090.2 1238.7,1097.2 1236.5,1079.7 1234.4,1071.8 1232.2,1063.9 1230.0,1030.7 1227.9,1091.9 1225.7,1095.9 1223.5,1099.8 1221.4,1084.5 1219.2,1069.2 1217.0,1058.7 1214.9,1023.7 1212.7,1059.6 1210.5,1095.4 1208.4,1083.2 1206.2,1070.9 1204.0,1065.7 1201.9,1060.4 1199.7,1034.2 1197.5,1069.2 1195.4,1104.2 1193.2,1093.7 1191.0,1077.9 1188.9,1062.2 1186.7,1033.6 1184.5,1005.0 1182.4,976.5 1180.2,1001.5 1178.0,1026.6 1175.9,1051.7 1173.7,1058.7 1171.5,1060.4 1169.4,1030.7 1167.2,1061.3 1165.0,1091.9 1162.9,1097.2 1160.7,1077.9 1158.5,1074.4 1156.4,1180.9 1154.2,979.1 1152.0,1018.0 1149.9,1056.9 1147.7,1075.3 1145.5,1060.4 1143.4,1052.6 1141.2,1060.4 1139.0,1021.1 1136.9,1055.6 1134.7,1090.2 1132.5,1084.9 1130.4,1069.2 1128.2,1063.9 1126.0,1058.7 1123.9,1020.2 1121.7,1113.1 1119.5,1206.0 1117.4,935.1 1115.2,1067.4 1113.0,1067.4 1110.9,1039.4 1108.7,1001.0 1106.5,1060.4 1104.4,1065.7 1102.2,1057.8 1100.0,1074.4 1097.9,1081.4 1095.7,1189.2 1093.5,1035.1 1091.3,1077.1 1089.2,1119.0 1087.0,1106.4 1084.8,1093.7 1082.7,1088.4 1080.5,1083.2 1078.3,1029.8 1076.2,1057.2 1074.0,1084.6 1071.8,1112.0 1069.7,1094.1 1067.5,1076.2 1065.3,1083.2 1063.2,955.5 1061.0,1002.7 1058.8,1049.9 1056.7,1097.2 1054.5,1058.7 1052.3,1056.9 1050.2,1055.2 1048.0,1017.6 1045.8,1046.7 1043.7,1075.9 1041.5,1105.0 1039.3,1086.7 1037.2,1081.4 1035.0,1076.2 1032.8,1023.7 1030.7,1065.7 1028.5,1107.7 1026.3,1102.4 1024.2,1087.6 1022.0,1072.7 1019.8,1070.9 1017.7,1018.5 1015.5,1067.4 1013.3,1116.4 1011.2,1109.4 1009.0,1091.9 1006.8,1074.4 1004.7,1069.2 1002.5,1021.1 1000.3,1067.4 998.2,1113.8 996.0,1107.7 993.8,1092.8 991.7,1077.9 989.5,1070.9 987.3,1060.4 985.2,952.0 983.0,981.1 980.8,1010.1 978.7,1039.2 976.5,1068.3 974.3,1069.2 972.2,1033.3 970.0,1069.6 967.8,1105.9 965.7,1093.1 963.5,1080.3 961.3,1067.4 959.2,1063.9 957.0,1009.7 954.8,1042.9 952.7,1076.2 950.5,1109.4 948.3,1054.3 946.2,1063.5 944.0,1072.7 941.8,1035.1 939.7,1057.2 937.5,1079.4 935.3,1101.5 933.2,1089.7 931.0,1077.9 928.8,1076.2 926.7,1019.3 924.5,1064.8 922.3,1110.3 920.2,1109.4 918.0,1076.2 915.8,1089.3 913.7,1079.7 911.5,1034.2 909.3,1081.0 907.2,1127.8 905.0,1123.4 902.8,1084.9 900.7,1088.4 898.5,1091.9 896.3,1026.3 894.2,1065.4 892.0,1104.5 889.8,1143.5 887.7,1073.6 885.5,1081.0 883.3,1088.4 881.2,985.2 879.0,995.7 876.8,1036.4 874.6,1077.1 872.5,1049.1 870.3,1078.4 868.1,1107.7 866.0,987.8 863.8,991.3 861.6,1048.6 859.5,1105.9 857.3,1072.7 855.1,1087.6 853.0,1102.4 850.8,988.7 848.6,1023.7 846.5,1058.7 844.3,1093.7 842.1,1081.4 840.0,1176.3 837.8,1053.4 835.6,994.0 833.5,1029.2 831.3,1064.5 829.1,1099.8 827.0,1079.7 824.8,1056.1 822.6,1032.5 820.5,997.5 818.3,1074.4 816.1,1077.9 814.0,1081.4 811.8,1062.2 809.6,1046.4 807.5,1039.4 805.3,980.0 803.1,1033.3 801.0,1086.7 798.8,1092.0 796.6,1066.2 794.5,1029.3 792.3,1021.8 790.1,1029.3 788.0,1134.3 785.8,1109.2 783.6,866.3 781.5,994.6 779.3,1066.2 777.1,1152.2 775.0,1188.1 772.8,1257.6 770.6,1238.3 768.5,876.3 766.3,771.6 764.1,883.5 762.0,976.6 759.8,1037.6 757.6,1080.6 755.5,1116.4 753.3,1153.2 751.1,1114.2 749.0,1075.3 746.8,1118.2 744.6,1098.0 742.5,1127.3 740.3,1156.6 738.1,1148.8 736.0,1140.9 733.8,1139.6 731.6,1138.3 729.5,1104.2 727.3,1131.3 725.1,1158.4 723.0,1158.4 720.8,1158.4 718.6,1142.7 716.5,1126.9 714.3,1152.2 712.1,1188.1 710.0,1244.0 707.8,1030.4 705.6,751.2 703.5,858.4 701.3,958.7 699.1,1026.8 697.0,1083.2 694.8,1093.2 692.6,1103.3 690.5,1090.2 688.3,1090.6 686.1,1091.1 684.0,1052.6 681.8,1081.4 679.6,1110.3 677.5,1139.2 675.3,1095.4 673.1,1116.4 671.0,1119.9 668.8,1080.6 666.6,1113.4 664.5,1146.2 662.3,1150.5 660.1,1154.9 657.9,1065.7 655.8,1083.2 653.6,1074.4 651.4,1046.4 649.3,1084.1 647.1,1121.7 644.9,1111.6 642.8,1101.5 640.6,1106.8 638.4,1052.6 636.3,1079.7 634.1,1106.8 631.9,1133.9 629.8,1111.2 627.6,1107.7 625.4,1136.5 623.3,1050.8 621.1,1097.2 618.9,1185.6 616.8,1274.1 614.6,1121.7 612.4,1106.8 610.3,1131.3 608.1,1155.8 605.9,1040.3 603.8,1119.9 601.6,1126.9 599.4,1113.8 597.3,1100.7 595.1,1091.9 592.9,1049.1 590.8,1077.9 588.6,1106.8 586.4,1098.9 584.3,1099.8 582.1,1100.7 579.9,1112.0 577.8,1058.3 575.6,1082.1 573.4,1105.8 571.3,1129.5 569.1,1118.2 566.9,1106.8 564.8,1105.9 562.6,1055.2 560.4,1079.7 558.3,1104.2 556.1,1128.7 553.9,1114.7 551.8,1100.7 549.6,1100.7 547.4,1052.6 545.3,1092.8 543.1,1133.0 540.9,1123.4 538.8,1110.3 536.6,1097.2 534.4,1064.8 532.3,1032.5 530.1,1054.8 527.9,1077.1 525.8,1067.4 523.6,1086.7 521.4,1070.9 519.3,1096.3 517.1,1058.7 514.9,1087.6 512.8,1116.4 510.6,1126.9 508.4,1110.7 506.3,1094.6 504.1,1094.6 501.9,1052.6 499.8,1079.2 497.6,1105.9 495.4,1123.4 493.3,1108.1 491.1,1092.8 488.9,1091.1 486.8,1052.6 484.6,1073.1 482.4,1093.7 480.3,1109.4 478.1,1098.5 475.9,1087.6 473.8,1086.7 471.6,1052.6 469.4,1078.4 467.3,1104.2 465.1,1106.8 462.9,1258.7 460.8,1088.4 458.6,1060.4 456.4,1040.3 454.3,1060.9 452.1,1081.4 449.9,1106.8 447.8,1093.7 445.6,1091.1 443.4,1088.4 441.2,1060.4 439.1,1080.6 436.9,1100.7 434.7,1104.2 432.6,1098.9 430.4,1083.2 428.2,1117.3 426.1,1063.1 423.9,1102.4 421.7,1102.4 419.6,1086.7 417.4,1084.9 415.2,1083.2 413.1,1202.8 410.9,1075.3 408.7,1127.2 406.6,1271.9 404.4,1108.5 402.2,1107.7 400.1,1091.9 397.9,1100.7 395.7,1116.4 393.6,1132.2 391.4,964.2 389.2,1006.2 387.1,1029.8 384.9,1053.4 382.7,1101.5 380.6,1073.6 378.4,1111.2 376.2,1111.2 374.1,1111.2 371.9,1105.9 369.7,1100.7 367.6,1130.4 365.4,1042.9 363.2,1060.4 361.1,1078.8 358.9,1097.2 356.7,1086.7 354.6,1083.2 352.4,1093.7 350.2,1068.3 348.1,1098.9 345.9,1109.4 343.7,1116.4 341.6,1129.5 339.4,1116.0 337.2,1102.4 335.1,1063.1 332.9,1088.4 330.7,1097.2 328.6,1088.4 326.4,1064.8 324.2,1067.0 322.1,1069.2 319.9,1081.4 317.7,1108.5 315.6,1135.7 313.4,1115.5 311.2,1203.5 309.1,1137.2 306.9,1070.9 304.7,1040.3 302.6,1078.8 300.4,1071.4 298.2,1063.9 296.1,1063.9 293.9,1070.9 291.7,1093.7 289.6,1077.9 287.4,1098.9 285.2,1097.2 283.1,1095.4 280.9,1084.1 278.7,1086.7 276.6,1119.9 274.4,1053.4 272.2,1016.7 270.1,1081.0 267.9,1145.3 265.7,1070.9 263.6,1012.3 261.4,1055.2 259.2,1056.9 257.1,1085.8 254.9,1070.9 252.7,1044.7 250.6,1038.6 248.4,1032.5 246.2,1070.9 244.1,1087.6 241.9,1104.2 239.7,1107.7 237.6,1081.4 235.4,1056.1 233.2,1060.4 231.1,1064.8 228.9,1069.2 226.7,1097.2 224.5,1074.4 222.4,1060.9 220.2,1047.3 218.0,1081.4 215.9,1116.9 213.7,1152.3 211.5,1060.4 209.4,1055.2 207.2,1060.4 205.0,1047.3 202.9,1034.2 200.7,1042.9 198.5,1056.9 196.4,1097.2 194.2,1070.9 192.0,1067.4 189.9,1039.4 187.7,1046.4 185.5,1067.4 183.4,1107.3 181.2,1147.2 179.0,1115.7 176.9,1106.4 174.7,1098.1 172.5,1078.1 170.4,1051.7 168.2,1109.2 166.0,1249.0 163.9,1102.1 161.7,955.1 159.5,940.8 157.4,865.5 155.2,697.1 153.0,793.9 150.9,890.6 148.7,786.7 146.5,858.4 144.4,1001.7 142.2,1094.9 140.0,1102.4 137.9,1058.7 135.7,1116.4 133.5,1134.8 131.4,1122.5 129.2,1120.8 127.0,1094.6 124.9,1093.7 122.7,1048.2 120.5,1094.9 118.4,1116.4 116.2,1134.3 114.0,1146.1 112.3,1146.1"/>
<path d="M112.3 1063.4 L114.4 1048.9 L116.6 1026.8 L118.8 1000.3 L120.9 942.8 L123.1 998.8 L125.3 999.9 L127.4 1032.2 L129.6 1034.3 L131.8 1049.4 L133.9 1026.8 L136.1 955.7 L138.3 1009.6 L140.4 1000.3 L142.6 885.6 L144.8 709.0 L146.9 620.7 L149.1 748.7 L151.3 629.6 L153.4 510.4 L155.6 717.8 L157.8 810.5 L160.0 828.2 L162.1 1009.1 L164.3 1190.1 L166.5 1018.0 L168.6 947.1 L170.8 979.6 L173.0 1004.3 L175.1 1014.4 L177.3 1025.9 L179.5 1064.7 L181.6 1015.6 L183.8 966.5 L186.0 940.6 L188.1 932.0 L190.3 966.5 L192.5 970.8 L194.6 1003.1 L196.8 953.6 L199.0 936.3 L201.1 925.6 L203.3 941.7 L205.5 957.9 L207.6 951.4 L209.8 957.9 L212.0 1071.0 L214.1 1027.3 L216.3 983.7 L218.5 941.7 L220.6 958.4 L222.8 975.1 L225.0 1003.1 L227.1 968.6 L229.3 963.3 L231.5 957.9 L233.6 952.5 L235.8 983.7 L238.0 1016.0 L240.1 1011.7 L242.3 991.3 L244.5 970.8 L246.6 923.4 L248.8 930.9 L251.0 938.5 L253.1 970.8 L255.3 989.1 L257.5 953.6 L259.6 951.4 L261.8 898.6 L264.0 970.8 L266.1 1062.4 L268.3 983.2 L270.5 904.0 L272.6 949.3 L274.8 1031.1 L277.0 990.2 L279.1 987.0 L281.3 1001.0 L283.5 1003.1 L285.6 1005.3 L287.8 979.4 L290.0 998.8 L292.1 970.8 L294.3 962.2 L296.5 962.2 L298.6 971.3 L300.8 980.5 L303.0 933.1 L305.1 970.8 L307.3 1052.4 L309.5 1134.0 L311.6 1025.7 L313.8 1050.5 L316.0 1017.1 L318.1 983.7 L320.3 968.6 L322.5 966.0 L324.6 963.3 L326.8 992.3 L329.0 1003.1 L331.1 992.3 L333.3 961.1 L335.5 1009.6 L337.6 1026.3 L339.8 1043.0 L342.0 1026.8 L344.1 1018.2 L346.3 1005.3 L348.5 967.6 L350.6 998.8 L352.8 985.9 L355.0 990.2 L357.1 1003.1 L359.3 980.5 L361.5 957.9 L363.6 936.3 L365.8 1044.0 L368.0 1007.4 L370.1 1013.9 L372.3 1020.3 L374.5 1020.3 L376.7 1020.3 L378.8 974.0 L381.0 1008.5 L383.2 949.3 L385.3 920.2 L387.5 891.1 L389.7 839.4 L391.8 1046.2 L394.0 1026.8 L396.2 1007.4 L398.3 996.6 L400.5 1016.0 L402.7 1017.1 L404.8 1218.3 L407.0 1040.0 L409.2 976.2 L411.3 1133.2 L413.5 985.9 L415.7 988.0 L417.8 990.2 L420.0 1009.6 L422.2 1009.6 L424.3 961.1 L426.5 1027.9 L428.7 985.9 L430.8 1005.3 L433.0 1011.7 L435.2 1007.4 L437.3 982.6 L439.5 957.9 L441.7 992.3 L443.8 995.6 L446.0 998.8 L448.2 1015.0 L450.3 983.7 L452.5 958.4 L454.7 933.1 L456.8 957.9 L459.0 992.3 L461.2 1202.0 L463.3 1015.0 L465.5 1011.7 L467.7 980.0 L469.8 948.2 L472.0 990.2 L474.2 991.3 L476.3 1004.7 L478.5 1018.2 L480.7 998.8 L482.8 973.5 L485.0 948.2 L487.2 995.6 L489.3 997.7 L491.5 1016.6 L493.7 1035.4 L495.8 1013.9 L498.0 981.0 L500.2 948.2 L502.3 999.9 L504.5 999.9 L506.7 1019.8 L508.8 1039.7 L511.0 1026.8 L513.2 991.3 L515.3 955.7 L517.5 1002.0 L519.7 970.8 L521.8 990.2 L524.0 966.5 L526.2 978.3 L528.3 950.9 L530.5 923.4 L532.7 963.3 L534.8 1003.1 L537.0 1019.3 L539.2 1035.4 L541.3 1047.3 L543.5 997.7 L545.7 948.2 L547.8 1007.4 L550.0 1007.4 L552.2 1024.7 L554.3 1041.9 L556.5 1011.7 L558.7 981.6 L560.8 951.4 L563.0 1013.9 L565.2 1015.0 L567.3 1029.0 L569.5 1043.0 L571.7 1013.7 L573.8 984.5 L576.0 955.3 L578.2 1021.4 L580.3 1007.4 L582.5 1006.3 L584.7 1005.3 L586.8 1015.0 L589.0 979.4 L591.2 943.9 L593.4 996.6 L595.5 1007.4 L597.7 1023.6 L599.9 1039.7 L602.0 1031.1 L604.2 933.1 L606.4 1075.3 L608.5 1045.1 L610.7 1015.0 L612.9 1033.3 L615.0 1221.0 L617.2 1112.0 L619.4 1003.1 L621.5 946.0 L623.7 1051.6 L625.9 1016.0 L628.0 1020.3 L630.2 1048.3 L632.4 1015.0 L634.5 981.6 L636.7 948.2 L638.9 1015.0 L641.0 1008.5 L643.2 1020.9 L645.4 1033.3 L647.5 987.0 L649.7 940.6 L651.9 975.1 L654.0 985.9 L656.2 964.3 L658.4 1074.2 L660.5 1068.8 L662.7 1063.4 L664.9 1023.0 L667.0 982.6 L669.2 1031.1 L671.4 1026.8 L673.5 1001.0 L675.7 1054.8 L677.9 1019.3 L680.0 983.7 L682.2 948.2 L684.4 995.6 L686.5 995.0 L688.7 994.5 L690.9 1010.7 L693.0 998.3 L695.2 985.9 L697.4 916.5 L699.5 832.6 L701.7 709.0 L703.9 577.1 L706.0 920.9 L708.2 1183.9 L710.4 1115.1 L712.5 1070.9 L714.7 1039.7 L716.9 1059.1 L719.0 1078.5 L721.2 1078.5 L723.4 1078.5 L725.5 1045.1 L727.7 1011.7 L729.9 1053.7 L732.0 1055.4 L734.2 1057.0 L736.4 1066.7 L738.5 1076.4 L740.7 1040.3 L742.9 1004.2 L745.0 1029.0 L747.2 976.2 L749.4 1024.1 L751.5 1072.0 L753.7 1026.8 L755.9 982.7 L758.0 929.7 L760.2 854.7 L762.4 739.9 L764.5 602.2 L766.7 731.1 L768.9 1176.9 L771.0 1200.7 L773.2 1115.1 L775.4 1070.9 L777.5 965.0 L779.7 876.7 L781.9 718.7 L784.0 1018.0 L786.2 1048.9 L788.4 919.5 L790.5 910.3 L792.7 919.5 L794.9 965.0 L797.0 996.8 L799.2 990.2 L801.4 924.5 L803.5 858.8 L805.7 932.0 L807.9 940.6 L810.1 960.0 L812.2 983.7 L814.4 979.4 L816.6 975.1 L818.7 880.3 L820.9 923.4 L823.1 952.5 L825.2 981.6 L827.4 1006.3 L829.6 962.9 L831.7 919.5 L833.9 876.0 L836.1 949.3 L838.2 1100.5 L840.4 983.7 L842.6 998.8 L844.7 955.7 L846.9 912.6 L849.1 869.5 L851.2 1009.6 L853.4 991.3 L855.6 973.0 L857.7 1013.9 L859.9 943.3 L862.1 872.8 L864.2 868.5 L866.4 1016.0 L868.6 980.0 L870.7 943.9 L872.9 978.3 L875.1 928.3 L877.2 878.2 L879.4 865.2 L881.6 992.3 L883.7 983.2 L885.9 974.0 L888.1 1060.2 L890.2 1012.1 L892.4 964.0 L894.6 915.9 L896.7 996.6 L898.9 992.3 L901.1 988.0 L903.2 1035.4 L905.4 1040.8 L907.6 983.2 L909.7 925.6 L911.9 981.6 L914.1 993.4 L916.2 977.3 L918.4 1018.2 L920.6 1019.3 L922.7 963.3 L924.9 907.2 L927.1 977.3 L929.2 979.4 L931.4 994.0 L933.6 1008.5 L935.7 981.2 L937.9 953.9 L940.1 926.6 L942.2 973.0 L944.4 961.6 L946.6 950.3 L948.7 1018.2 L950.9 977.3 L953.1 936.3 L955.2 895.4 L957.4 962.2 L959.6 966.5 L961.7 982.3 L963.9 998.1 L966.1 1013.9 L968.2 969.2 L970.4 924.5 L972.6 968.6 L974.7 967.6 L976.9 931.8 L979.1 895.9 L981.2 860.1 L983.4 824.3 L985.6 957.9 L987.7 970.8 L989.9 979.4 L992.1 997.7 L994.2 1016.0 L996.4 1023.6 L998.6 966.5 L1000.7 909.4 L1002.9 968.6 L1005.1 975.1 L1007.2 996.6 L1009.4 1018.2 L1011.6 1026.8 L1013.7 966.5 L1015.9 906.2 L1018.1 970.8 L1020.2 973.0 L1022.4 991.3 L1024.6 1009.6 L1026.8 1016.0 L1028.9 964.3 L1031.1 912.6 L1033.3 977.3 L1035.4 983.7 L1037.6 990.2 L1039.8 1012.8 L1041.9 976.9 L1044.1 941.0 L1046.3 905.1 L1048.4 951.4 L1050.6 953.6 L1052.8 955.7 L1054.9 1003.1 L1057.1 944.9 L1059.3 886.8 L1061.4 828.6 L1063.6 985.9 L1065.8 977.3 L1067.9 999.3 L1070.1 1021.4 L1072.3 987.7 L1074.4 953.9 L1076.6 920.2 L1078.8 985.9 L1080.9 992.3 L1083.1 998.8 L1085.3 1014.4 L1087.4 1030.0 L1089.6 978.3 L1091.8 926.6 L1093.9 1116.4 L1096.1 983.7 L1098.3 975.1 L1100.4 954.6 L1102.6 964.3 L1104.8 957.9 L1106.9 884.6 L1109.1 932.0 L1111.3 966.5 L1113.4 966.5 L1115.6 803.5 L1117.8 1137.1 L1119.9 1022.7 L1122.1 908.3 L1124.3 955.7 L1126.4 962.2 L1128.6 968.6 L1130.8 988.0 L1132.9 994.5 L1135.1 951.9 L1137.3 909.4 L1139.4 957.9 L1141.6 948.2 L1143.8 957.9 L1145.9 976.2 L1148.1 953.6 L1150.3 905.6 L1152.4 857.7 L1154.6 1106.2 L1156.8 975.1 L1158.9 979.4 L1161.1 1003.1 L1163.3 996.6 L1165.4 958.9 L1167.6 921.2 L1169.8 957.9 L1171.9 955.7 L1174.1 947.1 L1176.3 916.2 L1178.4 885.3 L1180.6 854.5 L1182.8 889.7 L1184.9 924.8 L1187.1 960.0 L1189.3 979.4 L1191.4 998.8 L1193.6 1011.7 L1195.8 968.6 L1197.9 925.6 L1200.1 957.9 L1202.3 964.3 L1204.4 970.8 L1206.6 985.9 L1208.8 1001.0 L1210.9 956.8 L1213.1 912.6 L1215.3 955.7 L1217.4 968.6 L1219.6 987.5 L1221.8 1006.3 L1223.9 1001.5 L1226.1 996.6 L1228.3 921.2 L1230.4 962.2 L1232.6 971.9 L1234.8 981.6 L1236.9 1003.1 L1239.1 994.5 L1241.3 985.9 L1243.5 891.1 L1245.6 925.6 L1247.8 923.4 L1250.0 970.8 L1252.1 982.1 L1254.3 993.4 L1256.5 990.2 L1258.6 895.4 L1260.8 942.8 L1263.0 947.1 L1265.1 979.4 L1267.3 986.4 L1269.5 993.4 L1271.6 942.8 L1273.8 892.2 L1276.0 949.3 L1278.1 960.0 L1280.3 977.8 L1282.5 995.6 L1284.6 996.6 L1286.8 979.4 L1289.0 919.1 L1291.1 1078.4 L1293.3 979.4 L1295.5 992.3 L1297.6 1009.6 L1299.8 992.3 L1302.0 946.0 L1304.1 899.7 L1306.3 955.7 L1308.5 940.6 L1310.6 947.1 L1312.8 933.1 L1315.0 919.1 L1317.1 932.0 L1319.3 840.5 L1321.5 889.5 L1323.6 938.5 L1325.8 960.0 L1328.0 981.6 L1330.1 1198.5 L1332.3 1037.8 L1334.5 877.1 L1336.6 942.8 L1338.8 952.5 L1341.0 962.2 L1343.1 844.8 L1345.3 1125.2 L1347.5 993.1 L1349.6 860.9 L1351.8 949.3 L1354.0 961.1 L1356.1 973.0 L1358.3 822.2 L1360.5 1131.4 L1362.6 1009.1 L1364.8 886.8 L1367.0 960.0 L1369.1 977.3 L1371.3 994.5 L1373.5 992.3 L1375.6 968.6 L1377.8 957.9 L1380.0 865.2 L1382.1 949.3 L1384.3 1053.7 L1386.5 994.5 L1388.6 995.0 L1390.8 995.6 L1393.0 944.4 L1395.1 893.2 L1397.3 1168.0 L1399.5 964.3 L1401.6 988.0 L1403.8 992.9 L1406.0 997.7 L1408.1 940.6 L1410.3 883.6 L1412.5 940.6 L1414.6 953.6 L1416.8 975.1 L1419.0 843.7 L1421.1 1131.0 L1423.3 1021.8 L1425.5 912.6 L1427.6 957.9 L1429.8 977.3 L1432.0 989.1 L1434.1 1001.0 L1436.3 957.2 L1438.5 913.4 L1440.6 869.5 L1442.8 949.3 L1445.0 985.9 L1447.1 985.9 L1449.3 1013.9 L1451.5 1025.7 L1453.6 970.3 L1455.8 914.8 L1458.0 975.1 L1460.2 990.2 L1462.3 992.3 L1464.5 983.7 L1466.7 1025.7 L1468.8 970.8 L1471.0 915.9 L1473.2 1185.7 L1475.3 979.4 L1477.5 979.4 L1479.7 997.7 L1481.8 987.1 L1484.0 929.7 L1486.2 841.4 L1488.3 753.2 L1490.5 620.7 L1492.7 459.2 L1494.8 797.3 L1497.0 1140.7 L1499.2 1053.3 L1501.3 1007.4 L1503.5 998.8 L1505.7 996.6 L1507.8 913.7 L1510.0 1194.5 L1512.2 1122.8 L1514.3 1051.1 L1516.5 979.4 L1518.7 1022.5 L1520.8 1026.8 L1523.0 1035.4 L1525.2 1055.9 L1527.3 1057.0 L1529.5 1015.5 L1531.7 974.0 L1533.8 990.2 L1536.0 994.5 L1538.2 973.0 L1540.3 988.0 L1542.5 1003.1 L1544.7 982.7 L1546.8 942.9 L1549.0 885.6 L1551.2 797.3 L1553.3 687.0 L1555.5 571.3 L1557.7 664.9 L1559.8 1210.4 L1562.0 1150.4 L1564.2 1097.4 L1566.3 1053.3 L1568.5 995.9 L1570.7 907.6 L1572.8 756.2 L1575.0 995.9 L1577.2 876.7 L1579.3 872.3 L1581.5 890.0 L1583.7 892.2 L1585.8 1157.4 L1588.0 973.8 L1590.2 904.5 L1592.3 835.1 L1594.5 873.9 L1596.7 910.5 L1598.8 1094.8 L1601.0 925.6 L1603.2 927.7 L1605.3 886.8 L1607.5 845.9 L1609.7 901.9 L1611.8 910.5 L1614.0 919.1 L1616.2 960.0 L1618.3 957.9 L1620.5 902.4 L1622.7 846.9 L1624.8 919.1 L1627.0 914.8 L1629.2 927.7 L1631.3 934.2 L1633.5 894.3 L1635.7 966.5 L1637.8 835.1 L1640.0 871.7 L1642.2 841.5 L1644.3 922.3 L1646.5 1003.1 L1648.7 1011.7 L1650.8 935.8 L1653.0 859.9 L1655.2 927.7 L1657.3 1167.6 L1659.5 952.5 L1661.7 951.4 L1663.8 964.3 L1666.0 863.5 L1668.2 691.8 L1670.3 885.6 L1672.5 990.2 L1674.7 966.5 L1676.9 1020.3 L1679.0 994.5 L1681.2 968.6 L1683.4 900.8 L1685.5 1217.0 L1687.7 967.6 L1689.9 979.4 L1692.0 998.8 L1694.2 1018.2 L1696.4 946.6 L1698.5 874.9 L1700.7 930.9 L1702.9 933.1 L1705.0 957.9 L1707.2 973.0 L1709.4 983.7 L1711.5 924.5 L1713.7 865.2 L1715.9 939.6 L1718.0 942.8 L1720.2 966.5 L1722.4 991.3 L1724.5 975.1 L1726.7 992.3 L1728.9 872.8 L1731.0 921.2 L1733.2 929.9 L1735.4 932.0 L1737.5 992.3 L1739.7 1011.7 L1741.9 942.8 L1744.0 873.9 L1746.2 949.3 L1748.4 975.1 L1750.5 992.3 L1752.7 1009.6 L1754.9 1001.0 L1757.0 937.4 L1759.2 873.9 L1761.4 964.3 L1763.5 966.5 L1765.7 975.6 L1767.9 984.8 L1770.0 957.9 L1772.2 951.4 L1774.4 849.1 L1776.5 910.5 L1778.7 940.6 L1780.9 970.3 L1783.0 999.9 L1785.2 950.3 L1787.4 900.8 L1789.5 851.2 L1791.7 919.1 L1793.9 919.1 L1796.0 918.0 L1798.2 916.9 L1800.4 884.6 L1802.5 803.0 L1804.7 929.7 L1806.9 970.7 L1809.0 1176.4 L1811.2 991.5 L1813.4 1007.4 L1815.5 1019.3 L1817.7 954.1 L1819.9 888.9 L1822.0 947.1 L1824.2 966.5 L1826.4 983.7 L1828.5 1001.0 L1830.7 977.3 L1832.9 968.6 L1835.0 882.5 L1837.2 936.3 L1839.4 937.4 L1841.5 955.7 L1843.7 964.9 L1845.9 974.0 L1848.0 894.4 L1850.2 796.4 L1852.4 953.6 L1854.5 955.7 L1856.7 988.0 L1858.9 1004.2 L1861.0 998.8 L1863.2 944.4 L1865.4 890.0 L1867.5 949.3 L1869.7 970.8 L1871.9 977.3 L1874.0 1004.2 L1876.2 1004.2 L1878.4 948.7 L1880.5 893.2 L1882.7 962.2 L1884.9 973.0 L1887.0 964.3 L1889.2 973.0 L1891.4 964.3 L1893.6 940.6 L1895.7 854.5 L1897.9 895.4 L1900.1 936.3 L1902.2 938.5 L1904.4 969.7 L1906.6 957.9 L1908.7 966.5 L1910.9 880.3 L1913.1 936.3 L1915.2 936.3 L1917.4 957.9 L1919.6 979.4 L1921.7 973.0 L1923.9 968.6 L1926.1 880.3 L1928.2 936.3 L1930.4 941.7 L1932.6 947.1 L1934.7 974.0 L1936.9 928.8 L1939.1 883.6 L1941.2 838.3 L1943.4 914.8 L1945.6 937.4 L1947.7 960.0 L1949.9 990.2 L1952.1 994.5 L1954.2 979.4 L1956.4 897.6 L1958.6 944.9 L1960.7 951.4 L1962.9 955.7 L1965.1 1153.9 L1967.2 854.7 L1969.4 876.7 L1971.6 758.5 L1973.7 916.9 L1975.9 957.9 L1978.1 981.6 L1980.2 985.9 L1982.4 990.2 L1984.6 970.8 L1986.7 888.9 L1988.9 949.3 L1991.1 962.2 L1993.2 966.5 L1995.4 989.1 L1997.6 982.6 L1999.7 935.8 L2001.9 888.9 L2004.1 936.3 L2006.2 960.0 L2008.4 974.6 L2010.6 989.1 L2012.7 983.7 L2014.9 970.8 L2017.1 891.1 L2019.2 949.3 L2021.4 970.8 L2023.6 980.0 L2025.7 989.1 L2027.9 970.8 L2030.1 968.6 L2032.2 888.9 L2034.4 923.4 L2036.6 923.4 L2038.7 911.6 L2040.9 949.3 L2043.1 963.3 L2045.2 957.9 L2047.4 865.2 L2049.6 919.1 L2051.7 929.9 L2053.9 940.6 L2056.1 966.5 L2058.2 974.0 L2060.4 920.2 L2062.6 866.3 L2064.7 927.7 L2066.9 940.6 L2069.1 953.6 L2071.2 979.4 L2073.4 970.8 L2075.6 960.0 L2077.7 865.2 L2079.9 947.1 L2082.1 957.9 L2084.2 973.5 L2086.4 989.1 L2088.6 966.5 L2090.7 921.8 L2092.9 877.1 L2095.1 954.6 L2097.2 950.3 L2099.4 950.3 L2101.6 906.2 L2103.7 896.5 L2105.9 906.2 L2108.1 828.6 L2110.3 878.2 L2112.4 927.7 L2114.6 955.7 L2116.8 983.7 L2118.9 984.8 L2121.1 921.2 L2123.3 857.7 L2125.4 907.8 L2127.6 957.9 L2129.8 964.3 L2131.9 983.7 L2134.1 990.2 L2136.3 1171.6 L2138.4 858.8 L2140.6 948.2 L2142.8 949.8 L2144.9 951.4 L2147.1 978.3 L2149.3 970.8 L2151.4 913.7 L2153.6 856.6 L2155.8 947.1 L2157.9 966.5 L2160.1 977.3 L2162.3 988.0 L2164.4 941.0 L2166.6 894.0 L2168.8 846.9 L2170.9 906.2 L2173.1 949.3 L2175.3 955.7 L2177.4 962.2 L2179.6 962.2 L2181.8 949.3 L2183.9 848.0 L2186.1 914.8 L2188.3 953.6 L2190.4 956.8 L2192.6 984.8 L2194.8 970.8 L2196.9 905.1 L2199.1 839.4 L2201.3 927.7 L2203.4 957.9 L2205.6 970.8 L2207.8 980.5 L2209.9 970.8 L2212.1 917.5 L2214.3 864.2 L2216.4 909.9 L2218.6 955.7 L2220.8 957.9 L2222.9 978.3 L2225.1 932.0 L2227.3 885.7 L2229.4 839.4 L2231.6 901.3 L2233.8 963.3 L2235.9 973.0 L2238.1 985.9 L2240.3 1005.3 L2242.4 946.6 L2244.6 887.9 L2246.8 932.0 L2248.9 965.4 L2251.1 967.6 L2253.3 973.0 L2255.4 975.1 L2257.6 977.3 L2259.8 901.9 L2261.9 947.1 L2264.1 951.4 L2266.3 949.3 L2268.4 964.3 L2270.6 938.5 L2272.8 885.6 L2274.9 810.5 L2277.1 709.0 L2279.3 567.8 L2281.4 378.0 L2283.6 841.4 L2285.8 1114.6 L2287.9 1026.8 L2290.1 987.1 L2292.3 968.6 L2294.4 992.3 L2296.6 1003.1 L2298.8 1046.2 L2300.9 1051.6 L2303.1 1001.5 L2305.3 951.4 L2307.4 992.3 L2309.6 1009.6 L2311.8 1011.7 L2313.9 1029.0 L2316.1 1037.6 L2318.3 987.5 L2320.4 937.4 L2322.6 960.0 L2324.8 966.5 L2327.0 956.8 L2329.1 981.6 L2331.3 991.3 L2333.5 951.8 L2335.6 894.4 L2337.8 832.6 L2340.0 776.5 L2342.1 937.2 L2344.3 692.7 L2346.5 744.3 L2348.6 797.3 L2350.8 1057.7 L2353.0 1056.4 L2355.1 1024.7 L2357.3 1013.9 L2359.5 1012.8 L2361.6 885.6 L2363.8 620.7 L2366.0 578.8 L2368.1 1014.0 L2370.3 846.9 L2372.5 876.5 L2374.6 906.2 L2376.8 950.3 L2379.0 907.6 L2381.1 794.6 L2383.3 872.8 L2385.5 879.8 L2387.6 886.8 L2389.8 923.4 L2392.0 900.1 L2394.1 876.7 L2396.3 807.9 L2398.5 867.9 L2400.6 887.0 L2402.8 906.2 L2405.0 944.9 L2407.1 907.6 L2409.3 867.9 L2411.5 809.2 L2413.6 895.4 L2415.8 897.6 L2418.0 936.3 L2420.1 950.3 L2422.3 936.3 L2424.5 876.7 L2426.6 809.2 L2428.8 906.2 L2431.0 914.8 L2433.1 923.4 L2435.3 946.0 L2437.5 926.1 L2439.6 906.2 L2441.8 813.6 L2444.0 901.9 L2446.1 925.6 L2448.3 927.7 L2450.5 949.3 L2452.6 927.7 L2454.8 863.5 L2457.0 703.7 L2459.1 830.8 L2461.3 724.0 L2463.5 929.7 L2465.6 991.3 L2467.8 970.8 L2470.0 884.6 L2472.1 877.6 L2474.3 870.6 L2476.5 949.3 L2478.6 966.5 L2480.8 970.8 L2483.0 975.1 L2485.1 907.8 L2487.3 840.5 L2489.5 886.2 L2491.6 932.0 L2493.8 914.8 L2496.0 948.2 L2498.1 944.9 L2500.3 936.3 L2502.5 823.2 L2504.6 906.2 L2506.8 936.3 L2509.0 942.8 L2511.1 1154.8 L2513.3 1009.1 L2515.5 936.6 L2517.6 864.2 L2519.8 927.7 L2522.0 950.3 L2524.1 926.6 L2526.3 949.3 L2528.5 967.6 L2530.6 960.0 L2532.8 854.5 L2535.0 927.7 L2537.1 953.6 L2539.3 954.6 L2541.5 993.4 L2543.7 981.6 L2545.8 918.6 L2548.0 855.5 L2550.2 1173.3 L2552.3 1068.3 L2554.5 963.3 L2556.7 968.6 L2558.8 949.3 L2561.0 885.6 L2563.2 814.9 L2565.3 906.2 L2567.5 882.5 L2569.7 883.6 L2571.8 908.3 L2574.0 867.9 L2576.2 788.0 L2578.3 894.4 L2580.5 936.3 L2582.7 942.8 L2584.8 979.4 L2587.0 996.6 L2589.2 960.0 L2591.3 914.8 L2593.5 869.5 L2595.7 949.3 L2597.8 955.7 L2600.0 968.6 L2602.2 981.6 L2604.3 982.6 L2606.5 949.3 L2608.7 877.1 L2610.8 949.3 L2613.0 966.5 L2615.2 977.3 L2617.3 988.0 L2619.5 979.4 L2621.7 920.2 L2623.8 860.9 L2626.0 927.7 L2628.2 947.1 L2630.3 934.2 L2632.5 968.6 L2634.7 951.4 L2636.8 969.7 L2639.0 871.7 L2641.2 936.3 L2643.3 942.8 L2645.5 925.6 L2647.7 964.3 L2649.8 903.2 L2652.0 702.8 L2654.2 942.8 L2656.3 944.9 L2658.5 957.9 L2660.7 979.4 L2662.8 991.3 L2665.0 988.0 L2667.2 932.6 L2669.3 877.1 L2671.5 940.6 L2673.7 954.6 L2675.8 947.1 L2678.0 1100.9 L2680.2 927.7 L2682.3 916.9 L2684.5 862.0 L2686.7 884.6 L2688.8 949.3 L2691.0 970.8 L2693.2 949.3 L2695.3 960.0 L2697.5 949.3 L2699.7 862.0 L2701.8 916.9 L2704.0 937.4 L2706.2 940.6 L2708.3 1149.0 L2710.5 962.2 L2712.7 953.6 L2714.8 878.2 L2717.0 929.9 L2719.2 910.5 L2721.3 975.1 L2723.5 953.6 L2725.7 940.6 L2727.8 885.7 L2730.0 830.8 L2732.2 890.0 L2734.3 949.3 L2736.5 965.4 L2738.7 981.6 L2740.8 984.8 L2743.0 941.2 L2745.2 897.6 L2747.3 942.8 L2749.5 949.3 L2751.7 946.6 L2753.8 943.9 L2756.0 1097.8 L2758.2 929.7 L2760.4 863.5 L2762.5 631.3 L2764.7 876.7 L2766.9 953.6 L2769.0 975.1 L2771.2 973.0 L2773.4 991.5 L2775.5 1097.0 L2777.7 921.3 L2779.9 949.3 L2782.0 966.5 L2784.2 1018.7 L2786.4 1071.0 L2788.5 980.0 L2790.7 888.9 L2792.9 927.7 L2795.0 949.3 L2797.2 961.6 L2799.4 974.0 L2801.5 970.8 L2803.7 927.7 L2805.9 884.6 L2808.0 927.7 L2810.2 953.6 L2812.4 969.2 L2814.5 984.8 L2816.7 977.3 L2818.9 933.6 L2821.0 890.0 L2823.2 918.0 L2825.4 885.7 L2827.5 923.4 L2829.7 929.9 L2831.9 964.3 L2834.0 913.2 L2836.2 862.0 L2838.4 906.2 L2840.5 938.5 L2842.7 952.5 L2844.9 966.5 L2847.0 957.9 L2849.2 906.7 L2851.4 855.5 L2853.5 927.7 L2855.7 925.6 L2857.9 957.9 L2860.0 968.6 L2862.2 957.9 L2864.4 920.7 L2866.5 883.6 L2868.7 938.5 L2870.9 957.9 L2873.0 966.5 L2875.2 975.1 L2877.4 980.5 L2879.5 925.0 L2881.7 869.5 L2883.9 940.6 L2886.0 952.5 L2888.2 955.7 L2890.4 942.8 L2892.5 883.6 L2894.7 904.0 L2896.9 813.6 L2899.0 867.4 L2901.2 932.0 L2903.4 951.4 L2905.5 970.8 L2907.7 980.5 L2909.9 912.1 L2912.0 843.7 L2914.2 927.7 L2916.4 942.8 L2918.5 949.3 L2920.7 968.6 L2922.9 968.6 L2925.0 922.9 L2927.2 877.1 L2929.4 940.6 L2931.5 953.6 L2933.7 966.5 L2935.9 984.8 L2938.0 975.1 L2940.2 925.0 L2942.4 874.9 L2944.5 940.6 L2946.7 944.9 L2948.9 966.5 L2951.0 975.1 L2953.2 1157.0 L2955.4 1010.6 L2957.5 864.2 L2959.7 919.1 L2961.9 921.2 L2964.0 949.3 L2966.2 964.3 L2968.4 967.6 L2970.5 923.9 L2972.7 880.3 L2974.9 916.9 L2977.1 949.3 L2979.2 967.6 L2981.4 985.9 L2983.6 984.8 L2985.7 979.4 L2987.9 857.7 L2990.1 906.2 L2992.2 953.6 L2994.4 971.9 L2996.6 990.2 L2998.7 1129.2 L3000.9 1005.3 L3003.1 881.4 L3005.2 949.3 L3007.4 968.6 L3009.6 969.7 L3011.7 989.1 L3013.9 955.4 L3016.1 921.6 L3018.2 887.9 L3020.4 910.5 L3022.6 923.4 L3024.7 992.3 L3026.9 1006.3 L3029.1 992.3 L3031.2 988.0 L3033.4 877.7 L3035.6 961.1 L3037.7 964.3 L3039.9 976.7 L3042.1 989.1 L3044.2 970.8 L3046.4 936.9 L3048.6 902.9 L3050.7 947.1 L3052.9 955.7 L3055.1 949.3 L3057.2 956.8 L3059.4 955.7 L3061.6 1009.6 L3063.7 841.4 L3065.9 687.0 L3068.1 532.5 L3070.2 375.4 L3072.4 819.4 L3074.6 1108.4 L3076.7 1018.0 L3078.9 990.1 L3081.1 962.2 L3083.2 980.5 L3085.4 979.4 L3087.6 992.3 L3089.7 1034.3 L3091.9 985.3 L3094.1 936.3 L3096.2 1074.2 L3098.4 980.5 L3100.6 992.3 L3102.7 1019.3 L3104.9 1006.3 L3107.1 993.4 L3109.2 1112.4 L3111.4 947.1 L3113.6 949.3 L3115.7 943.9 L3117.9 973.0 L3120.1 966.5 L3122.2 923.9 L3124.4 881.4 L3126.6 877.1 L3128.7 850.3 L3130.9 819.4 L3133.1 794.6 L3135.2 788.5" stroke="#003c71" stroke-width="4.17" fill="none" stroke-linejoin="round" stroke-linecap="round"/>
<text transform="translate(146.63,189.30) scale(1.2015,1.0300)" font-size="29.167" font-weight="bold" fill="#d0174a">Pandemic declared March 11, 2020</text>
<path d="M121.50 120.0V1275.0M188.50 120.0V1275.0M253.50 120.0V1275.0M320.50 120.0V1275.0M385.50 120.0V1275.0M452.50 120.0V1275.0M520.50 120.0V1275.0M585.50 120.0V1275.0M652.50 120.0V1275.0M717.50 120.0V1275.0M851.50 120.0V1275.0M912.50 120.0V1275.0M979.50 120.0V1275.0M1044.50 120.0V1275.0M1111.50 120.0V1275.0M1176.50 120.0V1275.0M1243.50 120.0V1275.0M1311.50 120.0V1275.0M1376.50 120.0V1275.0M1443.50 120.0V1275.0M1508.50 120.0V1275.0M1642.50 120.0V1275.0M1703.50 120.0V1275.0M1770.50 120.0V1275.0M1835.50 120.0V1275.0M1902.50 120.0V1275.0M1967.50 120.0V1275.0M2034.50 120.0V1275.0M2102.50 120.0V1275.0M2167.50 120.0V1275.0M2234.50 120.0V1275.0M2299.50 120.0V1275.0M2433.50 120.0V1275.0M2494.50 120.0V1275.0M2561.50 120.0V1275.0M2626.50 120.0V1275.0M2693.50 120.0V1275.0M2758.50 120.0V1275.0M2825.50 120.0V1275.0M2892.50 120.0V1275.0M2958.50 120.0V1275.0M3025.50 120.0V1275.0M3090.50 120.0V1275.0M113.0 1062.50H3135.0M113.0 841.50H3135.0M113.0 620.50H3135.0M113.0 400.50H3135.0M113.0 179.50H3135.0" stroke="#808080" stroke-width="1.25" fill="none"/>
<path d="M785.00 120.0V1275.0M1575.00 120.0V1275.0M2366.00 120.0V1275.0" stroke="#808080" stroke-width="4" fill="none"/>
<path d="M143 120.0V1275.0" stroke="#d0174a" stroke-width="6"/>
</g>
<rect x="113.0" y="120.0" width="3022.0" height="1155.0" fill="none" stroke="#000" stroke-width="1.67"/>
<path d="M121.00 1275.0v7.3M189.00 1275.0v7.3M254.00 1275.0v7.3M321.00 1275.0v7.3M386.00 1275.0v7.3M453.00 1275.0v7.3M520.00 1275.0v7.3M585.00 1275.0v7.3M652.00 1275.0v7.3M717.00 1275.0v7.3M785.00 1275.0v7.3M852.00 1275.0v7.3M912.00 1275.0v7.3M980.00 1275.0v7.3M1045.00 1275.0v7.3M1112.00 1275.0v7.3M1177.00 1275.0v7.3M1244.00 1275.0v7.3M1311.00 1275.0v7.3M1376.00 1275.0v7.3M1443.00 1275.0v7.3M1508.00 1275.0v7.3M1575.00 1275.0v7.3M1643.00 1275.0v7.3M1703.00 1275.0v7.3M1770.00 1275.0v7.3M1835.00 1275.0v7.3M1903.00 1275.0v7.3M1968.00 1275.0v7.3M2035.00 1275.0v7.3M2102.00 1275.0v7.3M2167.00 1275.0v7.3M2234.00 1275.0v7.3M2299.00 1275.0v7.3M2366.00 1275.0v7.3M2434.00 1275.0v7.3M2494.00 1275.0v7.3M2561.00 1275.0v7.3M2626.00 1275.0v7.3M2694.00 1275.0v7.3M2759.00 1275.0v7.3M2826.00 1275.0v7.3M2893.00 1275.0v7.3M2958.00 1275.0v7.3M3025.00 1275.0v7.3M3090.00 1275.0v7.3M113.0 1062.00h-7.3M113.0 841.00h-7.3M113.0 621.00h-7.3M113.0 400.00h-7.3M113.0 179.00h-7.3" stroke="#000" stroke-width="1.67"/>
<text transform="translate(80.12,1072.75) scale(1.0521,1.0300)" font-size="29.167" fill="#000">0</text>
<text transform="translate(61.76,852.07) scale(1.0944,1.0300)" font-size="29.167" fill="#000">50</text>
<text transform="translate(43.03,631.40) scale(1.1141,1.0300)" font-size="29.167" fill="#000">100</text>
<text transform="translate(43.03,410.72) scale(1.1141,1.0300)" font-size="29.167" fill="#000">150</text>
<text transform="translate(42.74,190.05) scale(1.1203,1.0300)" font-size="29.167" fill="#000">200</text>
<text transform="translate(98.45,1312.30) scale(1.1054,1.0300)" font-size="29.167" fill="#000">3/1</text>
<text transform="translate(83.75,1344.20) scale(1.1276,1.0300)" font-size="29.167" fill="#000">2020</text>
<text transform="translate(165.71,1312.30) scale(1.1136,1.0300)" font-size="29.167" fill="#000">4/1</text>
<text transform="translate(230.60,1312.30) scale(1.1056,1.0300)" font-size="29.167" fill="#000">5/1</text>
<text transform="translate(297.32,1312.30) scale(1.1199,1.0300)" font-size="29.167" fill="#000">6/1</text>
<text transform="translate(362.53,1312.30) scale(1.1103,1.0300)" font-size="29.167" fill="#000">7/1</text>
<text transform="translate(429.72,1312.30) scale(1.1154,1.0300)" font-size="29.167" fill="#000">8/1</text>
<text transform="translate(496.65,1312.30) scale(1.1236,1.0300)" font-size="29.167" fill="#000">9/1</text>
<text transform="translate(552.16,1312.30) scale(1.1221,1.0300)" font-size="29.167" fill="#000">10/1</text>
<text transform="translate(619.23,1312.30) scale(1.1702,1.0300)" font-size="29.167" fill="#000">11/1</text>
<text transform="translate(684.35,1312.30) scale(1.1221,1.0300)" font-size="29.167" fill="#000">12/1</text>
<text transform="translate(760.85,1312.30) scale(1.1105,1.0300)" font-size="29.167" fill="#000">1/1</text>
<text transform="translate(747.22,1344.20) scale(1.1212,1.0300)" font-size="29.167" fill="#000">2021</text>
<text transform="translate(828.28,1312.30) scale(1.1180,1.0300)" font-size="29.167" fill="#000">2/1</text>
<text transform="translate(889.41,1312.30) scale(1.1054,1.0300)" font-size="29.167" fill="#000">3/1</text>
<text transform="translate(956.66,1312.30) scale(1.1136,1.0300)" font-size="29.167" fill="#000">4/1</text>
<text transform="translate(1021.55,1312.30) scale(1.1056,1.0300)" font-size="29.167" fill="#000">5/1</text>
<text transform="translate(1088.28,1312.30) scale(1.1199,1.0300)" font-size="29.167" fill="#000">6/1</text>
<text transform="translate(1153.48,1312.30) scale(1.1103,1.0300)" font-size="29.167" fill="#000">7/1</text>
<text transform="translate(1220.68,1312.30) scale(1.1154,1.0300)" font-size="29.167" fill="#000">8/1</text>
<text transform="translate(1287.61,1312.30) scale(1.1236,1.0300)" font-size="29.167" fill="#000">9/1</text>
<text transform="translate(1343.12,1312.30) scale(1.1221,1.0300)" font-size="29.167" fill="#000">10/1</text>
<text transform="translate(1410.19,1312.30) scale(1.1702,1.0300)" font-size="29.167" fill="#000">11/1</text>
<text transform="translate(1475.30,1312.30) scale(1.1221,1.0300)" font-size="29.167" fill="#000">12/1</text>
<text transform="translate(1551.80,1312.30) scale(1.1105,1.0300)" font-size="29.167" fill="#000">1/1</text>
<text transform="translate(1538.29,1344.20) scale(1.1176,1.0300)" font-size="29.167" fill="#000">2022</text>
<text transform="translate(1619.23,1312.30) scale(1.1180,1.0300)" font-size="29.167" fill="#000">2/1</text>
<text transform="translate(1680.36,1312.30) scale(1.1054,1.0300)" font-size="29.167" fill="#000">3/1</text>
<text transform="translate(1747.62,1312.30) scale(1.1136,1.0300)" font-size="29.167" fill="#000">4/1</text>
<text transform="translate(1812.51,1312.30) scale(1.1056,1.0300)" font-size="29.167" fill="#000">5/1</text>
<text transform="translate(1879.23,1312.30) scale(1.1199,1.0300)" font-size="29.167" fill="#000">6/1</text>
<text transform="translate(1944.44,1312.30) scale(1.1103,1.0300)" font-size="29.167" fill="#000">7/1</text>
<text transform="translate(2011.63,1312.30) scale(1.1154,1.0300)" font-size="29.167" fill="#000">8/1</text>
<text transform="translate(2078.56,1312.30) scale(1.1236,1.0300)" font-size="29.167" fill="#000">9/1</text>
<text transform="translate(2134.07,1312.30) scale(1.1221,1.0300)" font-size="29.167" fill="#000">10/1</text>
<text transform="translate(2201.14,1312.30) scale(1.1702,1.0300)" font-size="29.167" fill="#000">11/1</text>
<text transform="translate(2266.26,1312.30) scale(1.1221,1.0300)" font-size="29.167" fill="#000">12/1</text>
<text transform="translate(2342.76,1312.30) scale(1.1105,1.0300)" font-size="29.167" fill="#000">1/1</text>
<text transform="translate(2328.95,1344.20) scale(1.1244,1.0300)" font-size="29.167" fill="#000">2023</text>
<text transform="translate(2410.19,1312.30) scale(1.1180,1.0300)" font-size="29.167" fill="#000">2/1</text>
<text transform="translate(2471.32,1312.30) scale(1.1054,1.0300)" font-size="29.167" fill="#000">3/1</text>
<text transform="translate(2538.57,1312.30) scale(1.1136,1.0300)" font-size="29.167" fill="#000">4/1</text>
<text transform="translate(2603.46,1312.30) scale(1.1056,1.0300)" font-size="29.167" fill="#000">5/1</text>
<text transform="translate(2670.19,1312.30) scale(1.1199,1.0300)" font-size="29.167" fill="#000">6/1</text>
<text transform="translate(2735.39,1312.30) scale(1.1103,1.0300)" font-size="29.167" fill="#000">7/1</text>
<text transform="translate(2802.59,1312.30) scale(1.1154,1.0300)" font-size="29.167" fill="#000">8/1</text>
<text transform="translate(2869.52,1312.30) scale(1.1236,1.0300)" font-size="29.167" fill="#000">9/1</text>
<text transform="translate(2925.03,1312.30) scale(1.1221,1.0300)" font-size="29.167" fill="#000">10/1</text>
<text transform="translate(2992.10,1312.30) scale(1.1702,1.0300)" font-size="29.167" fill="#000">11/1</text>
<text transform="translate(3057.21,1312.30) scale(1.1221,1.0300)" font-size="29.167" fill="#000">12/1</text>
<text transform="translate(1081.41,52.80) scale(1.1066,1.0300)" font-size="50.000" fill="#0b77c7">Spending on Food and Beverage Stores</text>
<text transform="translate(1181.21,107.20) scale(1.1057,1.0300)" font-size="33.333" fill="#000">An Event Study Based on Payment Card Transactions</text>
<text transform="translate(13.95,1381.50) scale(1.1406,1.0300)" font-size="25.000" fill="#000">Note: Chart shows the difference from the typical level of spending without COVID-19-related changes in the economy. The typical level corresponds to a value of 0.</text>
<text transform="translate(14.66,1409.70) scale(1.1375,1.0300)" font-size="25.000" fill="#000">The shaded area represents 95 percent confidence interval bands.</text>
<text transform="translate(13.79,1454.60) scale(1.1085,1.0300)" font-size="29.167" fill="#000">U.S. Bureau of Economic Analysis</text>
</svg>
</body></html>
